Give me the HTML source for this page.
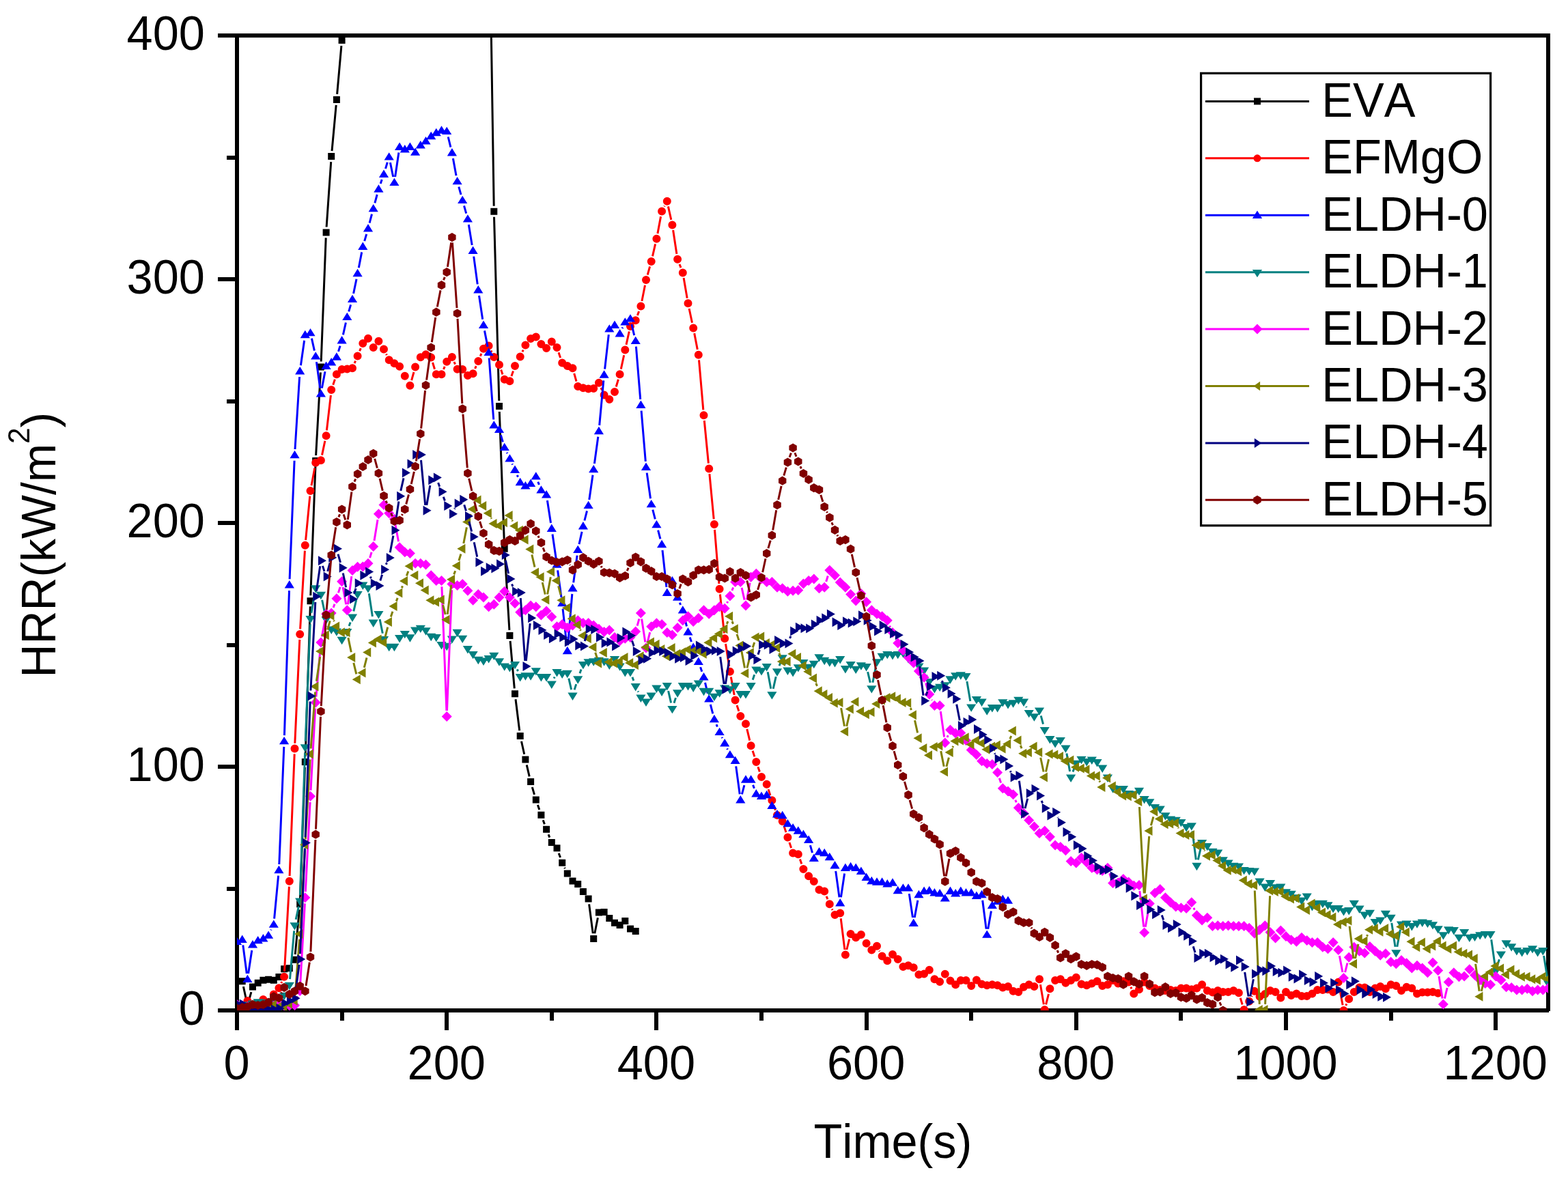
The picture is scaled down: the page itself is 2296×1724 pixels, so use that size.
<!DOCTYPE html>
<html lang="en"><head><meta charset="utf-8"><title>HRR curves</title>
<style>html,body{margin:0;padding:0;background:#fff;overflow:hidden}svg{display:block}text{font-family:"Liberation Sans","DejaVu Sans",sans-serif;fill:#000}</style></head><body>
<svg width="2296" height="1724" viewBox="0 0 2296 1724">
<rect width="2296" height="1724" fill="#fff"/>
<defs><clipPath id="plot"><rect x="347" y="52" width="1920" height="1428"/></clipPath></defs>
<g fill="#000" shape-rendering="crispEdges">
<rect x="344" y="49" width="6" height="1434"/>
<rect x="2264" y="49" width="6" height="1432"/>
<rect x="344" y="49" width="1926" height="6"/>
<rect x="344" y="1477" width="1924" height="6"/>
<rect x="319" y="1477" width="26" height="6"/>
<rect x="332" y="1298.5" width="13" height="6"/>
<rect x="319" y="1120" width="26" height="6"/>
<rect x="332" y="941.5" width="13" height="6"/>
<rect x="319" y="763" width="26" height="6"/>
<rect x="332" y="584.5" width="13" height="6"/>
<rect x="319" y="406" width="26" height="6"/>
<rect x="332" y="227.5" width="13" height="6"/>
<rect x="319" y="49" width="26" height="6"/>
<rect x="344" y="1480" width="6" height="29"/>
<rect x="498" y="1480" width="6" height="15"/>
<rect x="651" y="1480" width="6" height="29"/>
<rect x="805" y="1480" width="6" height="15"/>
<rect x="958" y="1480" width="6" height="29"/>
<rect x="1112" y="1480" width="6" height="15"/>
<rect x="1266" y="1480" width="6" height="29"/>
<rect x="1419" y="1480" width="6" height="15"/>
<rect x="1573" y="1480" width="6" height="29"/>
<rect x="1726" y="1480" width="6" height="15"/>
<rect x="1880" y="1480" width="6" height="29"/>
<rect x="2034" y="1480" width="6" height="15"/>
<rect x="2187" y="1480" width="6" height="29"/>
</g>
<g clip-path="url(#plot)">
<g fill="#000000" stroke="none">
<path fill="none" stroke="#000000" stroke-width="3" d="M356.4 1445L360.7 1465M364.5 1465.2L367.9 1453.1M432.2 1397.8L438.4 1332.3M439.5 1316.4L446.5 1123.9M447.1 1107.9L454.3 888.2M454.8 872.2L461.9 683M462.6 667L469.4 545.5M470.2 529.5L477.2 348.4M478.1 332.5L484.7 237.1M486 221.1L492.2 153.9M493.6 137.9L499.9 67.1M501.1 51.2L507.7 -47.1M715.8 -175.6L723.2 301.8M723.5 317.8L730.8 587M731.3 603L738.4 795.8M739.2 811.8L745.9 922.9M747.1 938.9L753.3 1008.3M755 1024.2L760.7 1070.1M763.5 1085.8L767.7 1104.8M771.2 1120.4L775.2 1137.3M779.3 1152.8L782.5 1163.9M787.4 1179.1L789.8 1186.1M795.2 1201.2L797.4 1207.2M803.1 1222.2L804.8 1226.6M818.2 1249.8L820.5 1256.1M826.7 1270.8L827.3 1272.2M862.6 1324.4L868.2 1367.1M870.8 1367.2L875.4 1344.3"/>
<path d="M342 1432.2h10v10h-10zM349.7 1432.2h10v10h-10zM357.4 1467.9h10v10h-10zM365 1440.4h10v10h-10zM372.7 1434.7h10v10h-10zM380.4 1430.7h10v10h-10zM388.1 1429.7h10v10h-10zM395.8 1430.7h10v10h-10zM403.4 1426.1h10v10h-10zM411.1 1414.3h10v10h-10zM418.8 1413.2h10v10h-10zM426.5 1400.7h10v10h-10zM434.2 1319.3h10v10h-10zM441.8 1110.9h10v10h-10zM449.5 875.2h10v10h-10zM457.2 670h10v10h-10zM464.9 532.5h10v10h-10zM472.6 335.5h10v10h-10zM480.2 224.1h10v10h-10zM487.9 140.9h10v10h-10zM495.6 54.1h10v10h-10zM718.3 304.8h10v10h-10zM726 590h10v10h-10zM733.7 798.8h10v10h-10zM741.4 925.9h10v10h-10zM749 1011.3h10v10h-10zM756.7 1073h10v10h-10zM764.4 1107.6h10v10h-10zM772.1 1140.1h10v10h-10zM779.8 1166.6h10v10h-10zM787.4 1188.7h10v10h-10zM795.1 1209.7h10v10h-10zM802.8 1229h10v10h-10zM810.5 1237.2h10v10h-10zM818.2 1258.7h10v10h-10zM825.8 1274.4h10v10h-10zM833.5 1285.4h10v10h-10zM841.2 1290.1h10v10h-10zM848.9 1301.1h10v10h-10zM856.6 1311.5h10v10h-10zM864.2 1370h10v10h-10zM871.9 1331.5h10v10h-10zM879.6 1331.1h10v10h-10zM887.3 1340.1h10v10h-10zM895 1346.8h10v10h-10zM902.6 1350h10v10h-10zM910.3 1344h10v10h-10zM918 1355.4h10v10h-10zM925.7 1359h10v10h-10z"/>
</g>
<g fill="#ff0000" stroke="none">
<path fill="none" stroke="#ff0000" stroke-width="3" d="M411.7 1440.1L412.8 1437.8M416.5 1422.9L423.4 1298.6M424.1 1283L431.2 1104.4M431.8 1088.8L438.8 936.9M439.6 921.4L446.4 806.6M447.6 791.1L453.8 726.6M456 711.2L460.8 685.5M471.5 666.6L475.9 645.8M478.4 630.4L484.4 578.8M487.7 563.7L490.4 555.6M519 532.1L520.6 528.6M526.6 514.2L528.3 510.1M565.5 518.5L566.3 520.2M602.6 557.1L606 545M633.5 531L636.5 540.8M649.5 541L651.2 536.9M665 530L666.5 533.6M695.6 540L697.2 536.1M703.3 521.8L704.9 517.9M718.9 513.5L720 515.8M733.6 541.6L736 548.4M748.9 550.9L751.5 543.5M764.9 515.4L766.2 512.5M818 516.3L820.6 524.1M840.7 546.8L844 558.6M880 567.9L881.5 571.4M902.2 566.5L905.4 555.7M909.3 540.6L913.7 520.2M917 504.9L921.3 485.5M933.4 462L935.6 455.9M939.9 441L944.5 417.7M948.2 402.6L951.6 390.4M955.5 375.3L959.6 357.3M962.9 342.1L967.6 317.1M972.7 302.5L973.1 301.7M978.4 302.4L982.8 321.8M985.6 337.1L990.9 372M995 387L997 392.1M1001.1 407L1006.2 436.7M1009.1 452L1013.5 472.8M1016.7 488.1L1021.3 512M1023.5 527.4L1029.8 600.4M1031.3 616L1037.4 678.6M1038.9 694.2L1045.2 760.4M1046.5 775.9L1052.9 855M1054.4 870.5L1060.4 927.5M1062.5 942.9L1067.7 976.1M1070.3 991.4L1075.2 1017.9M1079 1033L1081.9 1041.7M1093.8 1067.8L1097.8 1084.7M1102.1 1099.7L1104.9 1108.4M1109.9 1123.2L1112.4 1130.6M1125.1 1156.1L1127.9 1164.9M1133 1179.6L1135.4 1186.7M1148.1 1210.4L1151 1219.1M1155.9 1233.9L1158.6 1242M1171.4 1258.5L1173.8 1265.6M1210.1 1312.7L1211.9 1317.1M1218.3 1331.4L1219.1 1333M1231.2 1345.3L1236.9 1390.9M1239.8 1391L1243.7 1375.5M1287.6 1392.7L1288 1393.5M1523.4 1442L1528.4 1471.2M1531.6 1471.4L1535.5 1455.8M1655.8 1445.7L1657 1448.3M1816.2 1461.7L1819.2 1471.5M1832.8 1459.8L1833.4 1458.7M1961.2 1446.3L1966.1 1472.3M1970.7 1472.9L1971.9 1470.3"/>
<path d="M341 1476.4a6 6 0 1 0 12 0a6 6 0 1 0 -12 0zM348.7 1474.6a6 6 0 1 0 12 0a6 6 0 1 0 -12 0zM356.4 1466.1a6 6 0 1 0 12 0a6 6 0 1 0 -12 0zM364 1474.6a6 6 0 1 0 12 0a6 6 0 1 0 -12 0zM371.7 1472.9a6 6 0 1 0 12 0a6 6 0 1 0 -12 0zM379.4 1463.9a6 6 0 1 0 12 0a6 6 0 1 0 -12 0zM387.1 1468.2a6 6 0 1 0 12 0a6 6 0 1 0 -12 0zM394.8 1456.4a6 6 0 1 0 12 0a6 6 0 1 0 -12 0zM402.4 1447.2a6 6 0 1 0 12 0a6 6 0 1 0 -12 0zM410.1 1430.7a6 6 0 1 0 12 0a6 6 0 1 0 -12 0zM417.8 1290.8a6 6 0 1 0 12 0a6 6 0 1 0 -12 0zM425.5 1096.6a6 6 0 1 0 12 0a6 6 0 1 0 -12 0zM433.2 929.1a6 6 0 1 0 12 0a6 6 0 1 0 -12 0zM440.8 798.8a6 6 0 1 0 12 0a6 6 0 1 0 -12 0zM448.5 718.9a6 6 0 1 0 12 0a6 6 0 1 0 -12 0zM456.2 677.8a6 6 0 1 0 12 0a6 6 0 1 0 -12 0zM463.9 674.3a6 6 0 1 0 12 0a6 6 0 1 0 -12 0zM471.6 638.2a6 6 0 1 0 12 0a6 6 0 1 0 -12 0zM479.2 571.1a6 6 0 1 0 12 0a6 6 0 1 0 -12 0zM486.9 548.2a6 6 0 1 0 12 0a6 6 0 1 0 -12 0zM494.6 541.1a6 6 0 1 0 12 0a6 6 0 1 0 -12 0zM502.3 540.4a6 6 0 1 0 12 0a6 6 0 1 0 -12 0zM510 539.3a6 6 0 1 0 12 0a6 6 0 1 0 -12 0zM517.6 521.5a6 6 0 1 0 12 0a6 6 0 1 0 -12 0zM525.3 502.9a6 6 0 1 0 12 0a6 6 0 1 0 -12 0zM533 495.8a6 6 0 1 0 12 0a6 6 0 1 0 -12 0zM540.7 509a6 6 0 1 0 12 0a6 6 0 1 0 -12 0zM548.4 499.7a6 6 0 1 0 12 0a6 6 0 1 0 -12 0zM556 511.5a6 6 0 1 0 12 0a6 6 0 1 0 -12 0zM563.7 527.2a6 6 0 1 0 12 0a6 6 0 1 0 -12 0zM571.4 532.2a6 6 0 1 0 12 0a6 6 0 1 0 -12 0zM579.1 536.8a6 6 0 1 0 12 0a6 6 0 1 0 -12 0zM586.8 550.7a6 6 0 1 0 12 0a6 6 0 1 0 -12 0zM594.4 564.7a6 6 0 1 0 12 0a6 6 0 1 0 -12 0zM602.1 537.5a6 6 0 1 0 12 0a6 6 0 1 0 -12 0zM609.8 523.2a6 6 0 1 0 12 0a6 6 0 1 0 -12 0zM617.5 519.3a6 6 0 1 0 12 0a6 6 0 1 0 -12 0zM625.2 523.6a6 6 0 1 0 12 0a6 6 0 1 0 -12 0zM632.8 548.2a6 6 0 1 0 12 0a6 6 0 1 0 -12 0zM640.5 548.2a6 6 0 1 0 12 0a6 6 0 1 0 -12 0zM648.2 529.7a6 6 0 1 0 12 0a6 6 0 1 0 -12 0zM655.9 522.9a6 6 0 1 0 12 0a6 6 0 1 0 -12 0zM663.6 540.7a6 6 0 1 0 12 0a6 6 0 1 0 -12 0zM671.2 541.1a6 6 0 1 0 12 0a6 6 0 1 0 -12 0zM678.9 550a6 6 0 1 0 12 0a6 6 0 1 0 -12 0zM686.6 547.2a6 6 0 1 0 12 0a6 6 0 1 0 -12 0zM694.3 529a6 6 0 1 0 12 0a6 6 0 1 0 -12 0zM702 510.7a6 6 0 1 0 12 0a6 6 0 1 0 -12 0zM709.6 506.5a6 6 0 1 0 12 0a6 6 0 1 0 -12 0zM717.3 522.9a6 6 0 1 0 12 0a6 6 0 1 0 -12 0zM725 534.3a6 6 0 1 0 12 0a6 6 0 1 0 -12 0zM732.7 555.7a6 6 0 1 0 12 0a6 6 0 1 0 -12 0zM740.4 558.2a6 6 0 1 0 12 0a6 6 0 1 0 -12 0zM748 536.1a6 6 0 1 0 12 0a6 6 0 1 0 -12 0zM755.7 522.5a6 6 0 1 0 12 0a6 6 0 1 0 -12 0zM763.4 505.4a6 6 0 1 0 12 0a6 6 0 1 0 -12 0zM771.1 496.1a6 6 0 1 0 12 0a6 6 0 1 0 -12 0zM778.8 493.6a6 6 0 1 0 12 0a6 6 0 1 0 -12 0zM786.4 504a6 6 0 1 0 12 0a6 6 0 1 0 -12 0zM794.1 510a6 6 0 1 0 12 0a6 6 0 1 0 -12 0zM801.8 500.4a6 6 0 1 0 12 0a6 6 0 1 0 -12 0zM809.5 509a6 6 0 1 0 12 0a6 6 0 1 0 -12 0zM817.2 531.5a6 6 0 1 0 12 0a6 6 0 1 0 -12 0zM824.8 536.1a6 6 0 1 0 12 0a6 6 0 1 0 -12 0zM832.5 539.3a6 6 0 1 0 12 0a6 6 0 1 0 -12 0zM840.2 566.1a6 6 0 1 0 12 0a6 6 0 1 0 -12 0zM847.9 568.2a6 6 0 1 0 12 0a6 6 0 1 0 -12 0zM855.6 569.6a6 6 0 1 0 12 0a6 6 0 1 0 -12 0zM863.2 568.9a6 6 0 1 0 12 0a6 6 0 1 0 -12 0zM870.9 560.7a6 6 0 1 0 12 0a6 6 0 1 0 -12 0zM878.6 578.6a6 6 0 1 0 12 0a6 6 0 1 0 -12 0zM886.3 585a6 6 0 1 0 12 0a6 6 0 1 0 -12 0zM894 573.9a6 6 0 1 0 12 0a6 6 0 1 0 -12 0zM901.6 548.2a6 6 0 1 0 12 0a6 6 0 1 0 -12 0zM909.3 512.5a6 6 0 1 0 12 0a6 6 0 1 0 -12 0zM917 477.9a6 6 0 1 0 12 0a6 6 0 1 0 -12 0zM924.7 469.3a6 6 0 1 0 12 0a6 6 0 1 0 -12 0zM932.4 448.6a6 6 0 1 0 12 0a6 6 0 1 0 -12 0zM940 410.1a6 6 0 1 0 12 0a6 6 0 1 0 -12 0zM947.7 382.9a6 6 0 1 0 12 0a6 6 0 1 0 -12 0zM955.4 349.7a6 6 0 1 0 12 0a6 6 0 1 0 -12 0zM963.1 309.4a6 6 0 1 0 12 0a6 6 0 1 0 -12 0zM970.8 294.8a6 6 0 1 0 12 0a6 6 0 1 0 -12 0zM978.4 329.4a6 6 0 1 0 12 0a6 6 0 1 0 -12 0zM986.1 379.7a6 6 0 1 0 12 0a6 6 0 1 0 -12 0zM993.8 399.4a6 6 0 1 0 12 0a6 6 0 1 0 -12 0zM1001.5 444.3a6 6 0 1 0 12 0a6 6 0 1 0 -12 0zM1009.2 480.4a6 6 0 1 0 12 0a6 6 0 1 0 -12 0zM1016.8 519.7a6 6 0 1 0 12 0a6 6 0 1 0 -12 0zM1024.5 608.2a6 6 0 1 0 12 0a6 6 0 1 0 -12 0zM1032.2 686.4a6 6 0 1 0 12 0a6 6 0 1 0 -12 0zM1039.9 768.1a6 6 0 1 0 12 0a6 6 0 1 0 -12 0zM1047.6 862.7a6 6 0 1 0 12 0a6 6 0 1 0 -12 0zM1055.2 935.2a6 6 0 1 0 12 0a6 6 0 1 0 -12 0zM1062.9 983.8a6 6 0 1 0 12 0a6 6 0 1 0 -12 0zM1070.6 1025.5a6 6 0 1 0 12 0a6 6 0 1 0 -12 0zM1078.3 1049.1a6 6 0 1 0 12 0a6 6 0 1 0 -12 0zM1086 1060.2a6 6 0 1 0 12 0a6 6 0 1 0 -12 0zM1093.6 1092.3a6 6 0 1 0 12 0a6 6 0 1 0 -12 0zM1101.3 1115.9a6 6 0 1 0 12 0a6 6 0 1 0 -12 0zM1109 1138a6 6 0 1 0 12 0a6 6 0 1 0 -12 0zM1116.7 1148.7a6 6 0 1 0 12 0a6 6 0 1 0 -12 0zM1124.4 1172.3a6 6 0 1 0 12 0a6 6 0 1 0 -12 0zM1132 1194a6 6 0 1 0 12 0a6 6 0 1 0 -12 0zM1139.7 1203a6 6 0 1 0 12 0a6 6 0 1 0 -12 0zM1147.4 1226.5a6 6 0 1 0 12 0a6 6 0 1 0 -12 0zM1155.1 1249.4a6 6 0 1 0 12 0a6 6 0 1 0 -12 0zM1162.8 1251.2a6 6 0 1 0 12 0a6 6 0 1 0 -12 0zM1170.4 1272.9a6 6 0 1 0 12 0a6 6 0 1 0 -12 0zM1178.1 1283.3a6 6 0 1 0 12 0a6 6 0 1 0 -12 0zM1185.8 1291.1a6 6 0 1 0 12 0a6 6 0 1 0 -12 0zM1193.5 1303.3a6 6 0 1 0 12 0a6 6 0 1 0 -12 0zM1201.2 1305.4a6 6 0 1 0 12 0a6 6 0 1 0 -12 0zM1208.8 1324.3a6 6 0 1 0 12 0a6 6 0 1 0 -12 0zM1216.5 1340.1a6 6 0 1 0 12 0a6 6 0 1 0 -12 0zM1224.2 1337.6a6 6 0 1 0 12 0a6 6 0 1 0 -12 0zM1231.9 1398.6a6 6 0 1 0 12 0a6 6 0 1 0 -12 0zM1239.6 1367.9a6 6 0 1 0 12 0a6 6 0 1 0 -12 0zM1247.2 1373.3a6 6 0 1 0 12 0a6 6 0 1 0 -12 0zM1254.9 1369a6 6 0 1 0 12 0a6 6 0 1 0 -12 0zM1262.6 1381.8a6 6 0 1 0 12 0a6 6 0 1 0 -12 0zM1270.3 1391.5a6 6 0 1 0 12 0a6 6 0 1 0 -12 0zM1278 1385.8a6 6 0 1 0 12 0a6 6 0 1 0 -12 0zM1285.6 1400.4a6 6 0 1 0 12 0a6 6 0 1 0 -12 0zM1293.3 1407.2a6 6 0 1 0 12 0a6 6 0 1 0 -12 0zM1301 1397.9a6 6 0 1 0 12 0a6 6 0 1 0 -12 0zM1308.7 1405a6 6 0 1 0 12 0a6 6 0 1 0 -12 0zM1316.4 1416.1a6 6 0 1 0 12 0a6 6 0 1 0 -12 0zM1324 1414.3a6 6 0 1 0 12 0a6 6 0 1 0 -12 0zM1331.7 1417.2a6 6 0 1 0 12 0a6 6 0 1 0 -12 0zM1339.4 1427.5a6 6 0 1 0 12 0a6 6 0 1 0 -12 0zM1347.1 1426.5a6 6 0 1 0 12 0a6 6 0 1 0 -12 0zM1354.8 1420.7a6 6 0 1 0 12 0a6 6 0 1 0 -12 0zM1362.4 1434.3a6 6 0 1 0 12 0a6 6 0 1 0 -12 0zM1370.1 1437.9a6 6 0 1 0 12 0a6 6 0 1 0 -12 0zM1377.8 1426.8a6 6 0 1 0 12 0a6 6 0 1 0 -12 0zM1385.5 1436.4a6 6 0 1 0 12 0a6 6 0 1 0 -12 0zM1393.2 1442.2a6 6 0 1 0 12 0a6 6 0 1 0 -12 0zM1400.8 1436.1a6 6 0 1 0 12 0a6 6 0 1 0 -12 0zM1408.5 1436.1a6 6 0 1 0 12 0a6 6 0 1 0 -12 0zM1416.2 1443.9a6 6 0 1 0 12 0a6 6 0 1 0 -12 0zM1423.9 1435.4a6 6 0 1 0 12 0a6 6 0 1 0 -12 0zM1431.6 1441.4a6 6 0 1 0 12 0a6 6 0 1 0 -12 0zM1439.2 1443.2a6 6 0 1 0 12 0a6 6 0 1 0 -12 0zM1446.9 1442.2a6 6 0 1 0 12 0a6 6 0 1 0 -12 0zM1454.6 1443.2a6 6 0 1 0 12 0a6 6 0 1 0 -12 0zM1462.3 1446.4a6 6 0 1 0 12 0a6 6 0 1 0 -12 0zM1470 1445a6 6 0 1 0 12 0a6 6 0 1 0 -12 0zM1477.6 1451.8a6 6 0 1 0 12 0a6 6 0 1 0 -12 0zM1485.3 1452.9a6 6 0 1 0 12 0a6 6 0 1 0 -12 0zM1493 1445.7a6 6 0 1 0 12 0a6 6 0 1 0 -12 0zM1500.7 1442.2a6 6 0 1 0 12 0a6 6 0 1 0 -12 0zM1508.4 1445a6 6 0 1 0 12 0a6 6 0 1 0 -12 0zM1516 1434.3a6 6 0 1 0 12 0a6 6 0 1 0 -12 0zM1523.7 1478.9a6 6 0 1 0 12 0a6 6 0 1 0 -12 0zM1531.4 1448.2a6 6 0 1 0 12 0a6 6 0 1 0 -12 0zM1539.1 1436.1a6 6 0 1 0 12 0a6 6 0 1 0 -12 0zM1546.8 1434.3a6 6 0 1 0 12 0a6 6 0 1 0 -12 0zM1554.4 1439.7a6 6 0 1 0 12 0a6 6 0 1 0 -12 0zM1562.1 1436.1a6 6 0 1 0 12 0a6 6 0 1 0 -12 0zM1569.8 1431.8a6 6 0 1 0 12 0a6 6 0 1 0 -12 0zM1577.5 1441.4a6 6 0 1 0 12 0a6 6 0 1 0 -12 0zM1585.2 1443.2a6 6 0 1 0 12 0a6 6 0 1 0 -12 0zM1592.8 1440.4a6 6 0 1 0 12 0a6 6 0 1 0 -12 0zM1600.5 1437.2a6 6 0 1 0 12 0a6 6 0 1 0 -12 0zM1608.2 1443.9a6 6 0 1 0 12 0a6 6 0 1 0 -12 0zM1615.9 1442.2a6 6 0 1 0 12 0a6 6 0 1 0 -12 0zM1623.6 1436.1a6 6 0 1 0 12 0a6 6 0 1 0 -12 0zM1631.2 1440.4a6 6 0 1 0 12 0a6 6 0 1 0 -12 0zM1638.9 1437.2a6 6 0 1 0 12 0a6 6 0 1 0 -12 0zM1646.6 1438.6a6 6 0 1 0 12 0a6 6 0 1 0 -12 0zM1654.3 1455.4a6 6 0 1 0 12 0a6 6 0 1 0 -12 0zM1662 1449.3a6 6 0 1 0 12 0a6 6 0 1 0 -12 0zM1669.6 1438.6a6 6 0 1 0 12 0a6 6 0 1 0 -12 0zM1677.3 1443.9a6 6 0 1 0 12 0a6 6 0 1 0 -12 0zM1685 1447.5a6 6 0 1 0 12 0a6 6 0 1 0 -12 0zM1692.7 1450a6 6 0 1 0 12 0a6 6 0 1 0 -12 0zM1700.4 1451.1a6 6 0 1 0 12 0a6 6 0 1 0 -12 0zM1708 1450a6 6 0 1 0 12 0a6 6 0 1 0 -12 0zM1715.7 1451.1a6 6 0 1 0 12 0a6 6 0 1 0 -12 0zM1723.4 1447.5a6 6 0 1 0 12 0a6 6 0 1 0 -12 0zM1731.1 1447.5a6 6 0 1 0 12 0a6 6 0 1 0 -12 0zM1738.8 1449.3a6 6 0 1 0 12 0a6 6 0 1 0 -12 0zM1746.4 1447.5a6 6 0 1 0 12 0a6 6 0 1 0 -12 0zM1754.1 1442.2a6 6 0 1 0 12 0a6 6 0 1 0 -12 0zM1761.8 1451.1a6 6 0 1 0 12 0a6 6 0 1 0 -12 0zM1769.5 1453.6a6 6 0 1 0 12 0a6 6 0 1 0 -12 0zM1777.2 1451.1a6 6 0 1 0 12 0a6 6 0 1 0 -12 0zM1784.8 1452.9a6 6 0 1 0 12 0a6 6 0 1 0 -12 0zM1792.5 1452.9a6 6 0 1 0 12 0a6 6 0 1 0 -12 0zM1800.2 1451.1a6 6 0 1 0 12 0a6 6 0 1 0 -12 0zM1807.9 1454.3a6 6 0 1 0 12 0a6 6 0 1 0 -12 0zM1815.6 1478.9a6 6 0 1 0 12 0a6 6 0 1 0 -12 0zM1823.2 1466.8a6 6 0 1 0 12 0a6 6 0 1 0 -12 0zM1830.9 1451.8a6 6 0 1 0 12 0a6 6 0 1 0 -12 0zM1838.6 1459.7a6 6 0 1 0 12 0a6 6 0 1 0 -12 0zM1846.3 1456.1a6 6 0 1 0 12 0a6 6 0 1 0 -12 0zM1854 1451.1a6 6 0 1 0 12 0a6 6 0 1 0 -12 0zM1861.6 1452.9a6 6 0 1 0 12 0a6 6 0 1 0 -12 0zM1869.3 1461.4a6 6 0 1 0 12 0a6 6 0 1 0 -12 0zM1877 1452.9a6 6 0 1 0 12 0a6 6 0 1 0 -12 0zM1884.7 1457.9a6 6 0 1 0 12 0a6 6 0 1 0 -12 0zM1892.4 1455.4a6 6 0 1 0 12 0a6 6 0 1 0 -12 0zM1900 1458.9a6 6 0 1 0 12 0a6 6 0 1 0 -12 0zM1907.7 1458.9a6 6 0 1 0 12 0a6 6 0 1 0 -12 0zM1915.4 1455.4a6 6 0 1 0 12 0a6 6 0 1 0 -12 0zM1923.1 1450a6 6 0 1 0 12 0a6 6 0 1 0 -12 0zM1930.8 1450a6 6 0 1 0 12 0a6 6 0 1 0 -12 0zM1938.4 1449.3a6 6 0 1 0 12 0a6 6 0 1 0 -12 0zM1946.1 1452.9a6 6 0 1 0 12 0a6 6 0 1 0 -12 0zM1953.8 1438.6a6 6 0 1 0 12 0a6 6 0 1 0 -12 0zM1961.5 1480a6 6 0 1 0 12 0a6 6 0 1 0 -12 0zM1969.2 1463.2a6 6 0 1 0 12 0a6 6 0 1 0 -12 0zM1976.8 1452.9a6 6 0 1 0 12 0a6 6 0 1 0 -12 0zM1984.5 1446.4a6 6 0 1 0 12 0a6 6 0 1 0 -12 0zM1992.2 1446.4a6 6 0 1 0 12 0a6 6 0 1 0 -12 0zM1999.9 1452.9a6 6 0 1 0 12 0a6 6 0 1 0 -12 0zM2007.6 1447.5a6 6 0 1 0 12 0a6 6 0 1 0 -12 0zM2015.2 1445a6 6 0 1 0 12 0a6 6 0 1 0 -12 0zM2022.9 1448.2a6 6 0 1 0 12 0a6 6 0 1 0 -12 0zM2030.6 1442.2a6 6 0 1 0 12 0a6 6 0 1 0 -12 0zM2038.3 1443.9a6 6 0 1 0 12 0a6 6 0 1 0 -12 0zM2046 1451.1a6 6 0 1 0 12 0a6 6 0 1 0 -12 0zM2053.6 1445.7a6 6 0 1 0 12 0a6 6 0 1 0 -12 0zM2061.3 1447.5a6 6 0 1 0 12 0a6 6 0 1 0 -12 0zM2069 1455.4a6 6 0 1 0 12 0a6 6 0 1 0 -12 0zM2076.7 1453.6a6 6 0 1 0 12 0a6 6 0 1 0 -12 0zM2084.4 1453.6a6 6 0 1 0 12 0a6 6 0 1 0 -12 0zM2092 1452.9a6 6 0 1 0 12 0a6 6 0 1 0 -12 0zM2099.7 1454.7a6 6 0 1 0 12 0a6 6 0 1 0 -12 0z"/>
</g>
<g fill="#0000ff" stroke="none">
<path fill="none" stroke="#0000ff" stroke-width="3" d="M355.8 1384.4L361.3 1426M363.6 1426L368.8 1391.9M396.7 1362.5L397.1 1361.6M401.6 1345.6L407.6 1282.7M408.8 1266L415.8 1093.9M416.4 1077.1L423.5 865.1M424.1 848.3L431.1 674.8M432 658L438.6 552M440.4 535.3L445.6 498.7M456.4 495.7L460.4 513.6M463.4 530.1L468.7 568.5M471.4 568.5L476 544.3M495.5 514.9L498.1 506.6M502.4 490.4L506.4 472.5M510.7 456.3L513.6 446.3M517.6 430L522 408.7M525.3 392.2L529.7 369.4M533.7 353.1L536.7 342.8M541.1 326.6L544.5 313.6M548.9 297.4L552.2 285M557.2 269L559.2 263.1M564.5 247.1L567.3 237.8M571.4 238L575.7 259M578.6 259L583.9 223.5M656.2 200.5L659.9 215.6M663.4 232L668 257.2M671.8 273.6L675 285.2M679.5 301.4L682.7 312.7M686.3 329.1L691.2 358.9M693.7 375.6L699.2 416.4M701.5 433L706.7 467.8M709.5 484.4L714.1 507.9M716.2 524.5L722.7 614.5M733.4 637.3L736.3 647.3M742.2 662.9L742.8 664.1M749.9 679.4L750.5 680.6M757.3 695.9L758.5 698.6M787.8 705.7L789.4 710M801.4 732.9L806.5 765.9M809 782.5L814.3 818.7M816.6 835.4L822 875.1M824.1 891.8L829.9 945.1M831.5 945.1L837.8 870M839.7 853.4L845.1 813.6M848 797.1L852.1 778.8M855.9 762.5L859.5 748.4M862.8 732L868 695.8M870.4 679.1L875.8 639.7M877.7 623L883.8 557.3M885.6 540.6L891.3 490.2M911.1 481L911.8 479.5M924.9 475L928.7 491.1M931.4 507.7L937.7 584.8M939.1 601.6L945.3 675.9M947.2 692.6L952.5 730.2M955.8 746.6L959.3 760.4M963.6 776.6L966.9 789.3M970 805.8L975.9 859.8M980.1 860.4L981.1 858.3M987 858.6L989.6 866.9M995.3 882.7L996.6 886M1001.8 902L1005.5 917.4M1010.2 933.5L1012.4 940.1M1018 956L1020 961.2M1025.6 977.1L1027.8 983.7M1032.5 999.8L1036.2 1015.6M1040.3 1031.9L1043.8 1045.3M1049 1061.2L1050.4 1064.5M1057.1 1079.9L1057.7 1081.1M1064.7 1096.4L1065.4 1097.9M1077.7 1122.4L1083.2 1163.2M1086.4 1163.4L1089.9 1150.1M1102.6 1149.8L1104.4 1154.8M1186.4 1238.2L1189.5 1249.1M1223.7 1275.9L1229 1314.2M1231.4 1314.3L1236.6 1279.5M1331.3 1309.1L1336.5 1343.9M1339.2 1343.9L1343.9 1318.7M1438.7 1318.8L1444.1 1360.6M1446.7 1360.7L1451.4 1334.4"/>
<path d="M347 1372.7L354.1 1384.1L339.9 1384.1zM354.7 1369.5L361.8 1380.9L347.6 1380.9zM362.4 1427.7L369.5 1439.1L355.3 1439.1zM370 1377L377.1 1388.4L362.9 1388.4zM377.7 1370.9L384.8 1382.3L370.6 1382.3zM385.4 1368.1L392.5 1379.5L378.3 1379.5zM393.1 1363.4L400.2 1374.8L386 1374.8zM400.8 1347.4L407.9 1358.8L393.7 1358.8zM408.4 1267.8L415.5 1279.2L401.3 1279.2zM416.1 1078.9L423.2 1090.3L409 1090.3zM423.8 850.1L430.9 861.5L416.7 861.5zM431.5 659.8L438.6 671.2L424.4 671.2zM439.2 537L446.3 548.4L432.1 548.4zM446.8 483.8L453.9 495.2L439.7 495.2zM454.5 480.9L461.6 492.3L447.4 492.3zM462.2 515.2L469.3 526.6L455.1 526.6zM469.9 570.2L477 581.6L462.8 581.6zM477.6 529.5L484.7 540.9L470.5 540.9zM485.2 524.1L492.3 535.5L478.1 535.5zM492.9 516.3L500 527.7L485.8 527.7zM500.6 492L507.7 503.4L493.5 503.4zM508.3 457.7L515.4 469.1L501.2 469.1zM516 431.7L523.1 443.1L508.9 443.1zM523.6 393.8L530.7 405.2L516.5 405.2zM531.3 354.6L538.4 366L524.2 366zM539 328.1L546.1 339.5L531.9 339.5zM546.7 298.9L553.8 310.3L539.6 310.3zM554.4 270.3L561.5 281.7L547.3 281.7zM562 248.5L569.1 259.9L554.9 259.9zM569.7 223.2L576.8 234.6L562.6 234.6zM577.4 260.7L584.5 272.1L570.3 272.1zM585.1 208.5L592.2 219.9L578 219.9zM592.8 212.1L599.9 223.5L585.7 223.5zM600.4 208.5L607.5 219.9L593.3 219.9zM608.1 216.4L615.2 227.8L601 227.8zM615.8 206.1L622.9 217.5L608.7 217.5zM623.5 200L630.6 211.4L616.4 211.4zM631.2 192.8L638.3 204.2L624.1 204.2zM638.8 187.8L645.9 199.2L631.7 199.2zM646.5 184.3L653.6 195.7L639.4 195.7zM654.2 185.7L661.3 197.1L647.1 197.1zM661.9 217.1L669 228.5L654.8 228.5zM669.6 258.9L676.7 270.3L662.5 270.3zM677.2 286.7L684.3 298.1L670.1 298.1zM684.9 314.2L692 325.6L677.8 325.6zM692.6 360.6L699.7 372L685.5 372zM700.3 418.1L707.4 429.5L693.2 429.5zM708 469.5L715.1 480.9L700.9 480.9zM715.6 509.5L722.7 520.9L708.5 520.9zM723.3 616.2L730.4 627.6L716.2 627.6zM731 622.7L738.1 634.1L723.9 634.1zM738.7 648.7L745.8 660.1L731.6 660.1zM746.4 665.2L753.5 676.6L739.3 676.6zM754 681.6L761.1 693L746.9 693zM761.7 699.8L768.8 711.2L754.6 711.2zM769.4 705.1L776.5 716.5L762.3 716.5zM777.1 701.6L784.2 713L770 713zM784.8 691.2L791.9 702.6L777.7 702.6zM792.4 711.2L799.5 722.6L785.3 722.6zM800.1 718L807.2 729.4L793 729.4zM807.8 767.6L814.9 779L800.7 779zM815.5 820.4L822.6 831.8L808.4 831.8zM823.2 876.9L830.3 888.3L816.1 888.3zM830.8 946.8L837.9 958.2L823.7 958.2zM838.5 855.1L845.6 866.5L831.4 866.5zM846.2 798.7L853.3 810.1L839.1 810.1zM853.9 764L861 775.4L846.8 775.4zM861.6 733.7L868.7 745.1L854.5 745.1zM869.2 680.9L876.3 692.3L862.1 692.3zM876.9 624.8L884 636.2L869.8 636.2zM884.6 542.3L891.7 553.7L877.5 553.7zM892.3 475.2L899.4 486.6L885.2 486.6zM900 469.5L907.1 480.9L892.9 480.9zM907.6 482L914.7 493.4L900.5 493.4zM915.3 465.2L922.4 476.6L908.2 476.6zM923 460.2L930.1 471.6L915.9 471.6zM930.7 492.7L937.8 504.1L923.6 504.1zM938.4 586.6L945.5 598L931.3 598zM946 677.6L953.1 689L938.9 689zM953.7 731.9L960.8 743.3L946.6 743.3zM961.4 761.9L968.5 773.3L954.3 773.3zM969.1 790.8L976.2 802.2L962 802.2zM976.8 861.5L983.9 872.9L969.7 872.9zM984.4 844L991.5 855.4L977.3 855.4zM992.1 868.3L999.2 879.7L985 879.7zM999.8 887.2L1006.9 898.6L992.7 898.6zM1007.5 919L1014.6 930.4L1000.4 930.4zM1015.2 941.5L1022.3 952.9L1008.1 952.9zM1022.8 962.5L1029.9 973.9L1015.7 973.9zM1030.5 985L1037.6 996.4L1023.4 996.4zM1038.2 1017.2L1045.3 1028.6L1031.1 1028.6zM1045.9 1046.8L1053 1058.2L1038.8 1058.2zM1053.6 1065.7L1060.7 1077.1L1046.5 1077.1zM1061.2 1082.1L1068.3 1093.5L1054.1 1093.5zM1068.9 1098.9L1076 1110.3L1061.8 1110.3zM1076.6 1107.5L1083.7 1118.9L1069.5 1118.9zM1084.3 1165L1091.4 1176.4L1077.2 1176.4zM1092 1135.3L1099.1 1146.7L1084.9 1146.7zM1099.6 1135.3L1106.7 1146.7L1092.5 1146.7zM1107.3 1156L1114.4 1167.4L1100.2 1167.4zM1115 1159.6L1122.1 1171L1107.9 1171zM1122.7 1157.8L1129.8 1169.2L1115.6 1169.2zM1130.4 1173.5L1137.5 1184.9L1123.3 1184.9zM1138 1186L1145.1 1197.4L1130.9 1197.4zM1145.7 1187.8L1152.8 1199.2L1138.6 1199.2zM1153.4 1199.9L1160.5 1211.3L1146.3 1211.3zM1161.1 1206L1168.2 1217.4L1154 1217.4zM1168.8 1210.3L1175.9 1221.7L1161.7 1221.7zM1176.4 1215.6L1183.5 1227L1169.3 1227zM1184.1 1223.5L1191.2 1234.9L1177 1234.9zM1191.8 1250.6L1198.9 1262L1184.7 1262zM1199.5 1241L1206.6 1252.4L1192.4 1252.4zM1207.2 1242.8L1214.3 1254.2L1200.1 1254.2zM1214.8 1248.8L1221.9 1260.2L1207.7 1260.2zM1222.5 1261L1229.6 1272.4L1215.4 1272.4zM1230.2 1316L1237.3 1327.4L1223.1 1327.4zM1237.9 1264.6L1245 1276L1230.8 1276zM1245.6 1262.8L1252.7 1274.2L1238.5 1274.2zM1253.2 1264.6L1260.3 1276L1246.1 1276zM1260.9 1269.6L1268 1281L1253.8 1281zM1268.6 1278.5L1275.7 1289.9L1261.5 1289.9zM1276.3 1283.8L1283.4 1295.2L1269.2 1295.2zM1284 1285.3L1291.1 1296.7L1276.9 1296.7zM1291.6 1285.3L1298.7 1296.7L1284.5 1296.7zM1299.3 1288.1L1306.4 1299.5L1292.2 1299.5zM1307 1286.3L1314.1 1297.7L1299.9 1297.7zM1314.7 1297.8L1321.8 1309.2L1307.6 1309.2zM1322.4 1294.2L1329.5 1305.6L1315.3 1305.6zM1330 1294.2L1337.1 1305.6L1322.9 1305.6zM1337.7 1345.6L1344.8 1357L1330.6 1357zM1345.4 1303.8L1352.5 1315.2L1338.3 1315.2zM1353.1 1298.5L1360.2 1309.9L1346 1309.9zM1360.8 1297.8L1367.9 1309.2L1353.7 1309.2zM1368.4 1301L1375.5 1312.4L1361.3 1312.4zM1376.1 1302L1383.2 1313.4L1369 1313.4zM1383.8 1309.2L1390.9 1320.6L1376.7 1320.6zM1391.5 1298.5L1398.6 1309.9L1384.4 1309.9zM1399.2 1302L1406.3 1313.4L1392.1 1313.4zM1406.8 1298.5L1413.9 1309.9L1399.7 1309.9zM1414.5 1301L1421.6 1312.4L1407.4 1312.4zM1422.2 1301L1429.3 1312.4L1415.1 1312.4zM1429.9 1305.6L1437 1317L1422.8 1317zM1437.6 1303.8L1444.7 1315.2L1430.5 1315.2zM1445.2 1362.4L1452.3 1373.8L1438.1 1373.8zM1452.9 1319.5L1460 1330.9L1445.8 1330.9zM1460.6 1313.5L1467.7 1324.9L1453.5 1324.9zM1468.3 1310.6L1475.4 1322L1461.2 1322zM1476 1312.4L1483.1 1323.8L1468.9 1323.8z"/>
</g>
<g fill="#008080" stroke="none">
<path fill="none" stroke="#008080" stroke-width="3" d="M424.5 1434.1L430.7 1363.4M433.2 1346.8L437.4 1327.6M439.4 1311L446.6 1102.5M447.2 1085.7L454.2 914.3M455.9 897.7L460.8 869.2M471.6 878.8L475.8 898.8M511.1 917L513.1 911.4M517.8 895.3L521.8 878.1M540.3 869.3L545.4 903M556.1 907L560.3 927.7M757.3 980.4L758.5 983.2M811.2 993.6L812.1 991.5M832.8 993.7L836.6 1010.2M841.1 1010.4L843.7 1002.1M849 986.2L851 980.6M925.9 991.7L927.8 996.9M934.2 1012.4L934.8 1013.6M978.6 1012L982.6 1029.5M987 1029.7L989.5 1022.1M1102.2 995.8L1104.7 988.2M1124.2 984.2L1128.8 1008.7M1132.2 1008.8L1136.2 991.2M1141.1 975.2L1142.7 970.9M1149 970.8L1150.1 973.5M1270.6 984.1L1274.3 999.9M1277.9 999.8L1282.3 977.4M1356.6 988.9L1357.2 990.1M1415.9 998.1L1420.8 1026.9M1502.6 1034.9L1503.1 1036.1M1524.2 1048.3L1527.5 1060.6M1561.9 1103.4L1566.6 1130.1M1571 1130.5L1572.9 1125.5M1745.9 1217.4L1751.3 1259.3M1754.3 1259.4L1758.3 1241.9M2037.8 1351.9L2043 1386.7M2045.8 1386.8L2050.4 1361.5M2183.7 1376.2L2189 1413.5M2192.7 1413.8L2195.4 1405.2M2201.5 1389.6L2201.9 1388.7M2260.6 1400.1L2265.7 1431.7"/>
<path d="M347 1480.5L354.1 1469.1L339.9 1469.1zM354.7 1480.5L361.8 1469.1L347.6 1469.1zM362.4 1478.7L369.5 1467.3L355.3 1467.3zM370 1476.9L377.1 1465.5L362.9 1465.5zM377.7 1474.7L384.8 1463.3L370.6 1463.3zM385.4 1475.1L392.5 1463.7L378.3 1463.7zM393.1 1475.1L400.2 1463.7L386 1463.7zM400.8 1473.3L407.9 1461.9L393.7 1461.9zM408.4 1469.8L415.5 1458.4L401.3 1458.4zM416.1 1465.1L423.2 1453.7L409 1453.7zM423.8 1450.1L430.9 1438.7L416.7 1438.7zM431.5 1362.6L438.6 1351.2L424.4 1351.2zM439.2 1326.9L446.3 1315.5L432.1 1315.5zM446.8 1101.7L453.9 1090.3L439.7 1090.3zM454.5 913.5L461.6 902.1L447.4 902.1zM462.2 868.6L469.3 857.2L455.1 857.2zM469.9 878.2L477 866.8L462.8 866.8zM477.6 914.6L484.7 903.2L470.5 903.2zM485.2 928.9L492.3 917.5L478.1 917.5zM492.9 931.8L500 920.4L485.8 920.4zM500.6 944.2L507.7 932.8L493.5 932.8zM508.3 932.5L515.4 921.1L501.2 921.1zM516 911L523.1 899.6L508.9 899.6zM523.6 877.5L530.7 866.1L516.5 866.1zM531.3 863.9L538.4 852.5L524.2 852.5zM539 868.6L546.1 857.2L531.9 857.2zM546.7 918.9L553.8 907.5L539.6 907.5zM554.4 906.4L561.5 895L547.3 895zM562 943.5L569.1 932.1L554.9 932.1zM569.7 954.2L576.8 942.8L562.6 942.8zM577.4 954.2L584.5 942.8L570.3 942.8zM585.1 941.4L592.2 930L578 930zM592.8 935.3L599.9 923.9L585.7 923.9zM600.4 940.7L607.5 929.3L593.3 929.3zM608.1 930L615.2 918.6L601 918.6zM615.8 927.1L622.9 915.7L608.7 915.7zM623.5 930.7L630.6 919.3L616.4 919.3zM631.2 939.2L638.3 927.8L624.1 927.8zM638.8 940.3L645.9 928.9L631.7 928.9zM646.5 951.4L653.6 940L639.4 940zM654.2 953.2L661.3 941.8L647.1 941.8zM661.9 942.8L669 931.4L654.8 931.4zM669.6 933.2L676.7 921.8L662.5 921.8zM677.2 942.1L684.3 930.7L670.1 930.7zM684.9 957.5L692 946.1L677.8 946.1zM692.6 965.3L699.7 953.9L685.5 953.9zM700.3 973.2L707.4 961.8L693.2 961.8zM708 974.9L715.1 963.5L700.9 963.5zM715.6 971.4L722.7 960L708.5 960zM723.3 967.1L730.4 955.7L716.2 955.7zM731 975.7L738.1 964.3L723.9 964.3zM738.7 982.8L745.8 971.4L731.6 971.4zM746.4 984.6L753.5 973.2L739.3 973.2zM754 980.3L761.1 968.9L746.9 968.9zM761.7 998.5L768.8 987.1L754.6 987.1zM769.4 996.7L776.5 985.3L762.3 985.3zM777.1 996.7L784.2 985.3L770 985.3zM784.8 989.6L791.9 978.2L777.7 978.2zM792.4 998.5L799.5 987.1L785.3 987.1zM800.1 998.5L807.2 987.1L793 987.1zM807.8 1008.9L814.9 997.5L800.7 997.5zM815.5 991.4L822.6 980L808.4 980zM823.2 993.9L830.3 982.5L816.1 982.5zM830.8 993.2L837.9 981.8L823.7 981.8zM838.5 1026L845.6 1014.6L831.4 1014.6zM846.2 1001.7L853.3 990.3L839.1 990.3zM853.9 980.3L861 968.9L846.8 968.9zM861.6 976.7L868.7 965.3L854.5 965.3zM869.2 975.7L876.3 964.3L862.1 964.3zM876.9 974.2L884 962.8L869.8 962.8zM884.6 975.7L891.7 964.3L877.5 964.3zM892.3 981L899.4 969.6L885.2 969.6zM900 972.4L907.1 961L892.9 961zM907.6 982.8L914.7 971.4L900.5 971.4zM915.3 991.4L922.4 980L908.2 980zM923 991.4L930.1 980L915.9 980zM930.7 1012.4L937.8 1001L923.6 1001zM938.4 1028.9L945.5 1017.5L931.3 1017.5zM946 1034.9L953.1 1023.5L938.9 1023.5zM953.7 1026L960.8 1014.6L946.6 1014.6zM961.4 1014.9L968.5 1003.5L954.3 1003.5zM969.1 1019.9L976.2 1008.5L962 1008.5zM976.8 1011.4L983.9 1000L969.7 1000zM984.4 1045.3L991.5 1033.9L977.3 1033.9zM992.1 1021.7L999.2 1010.3L985 1010.3zM999.8 1011.4L1006.9 1000L992.7 1000zM1007.5 1011.4L1014.6 1000L1000.4 1000zM1015.2 1013.9L1022.3 1002.5L1008.1 1002.5zM1022.8 1007.8L1029.9 996.4L1015.7 996.4zM1030.5 1019.2L1037.6 1007.8L1023.4 1007.8zM1038.2 1019.2L1045.3 1007.8L1031.1 1007.8zM1045.9 1027.1L1053 1015.7L1038.8 1015.7zM1053.6 1021.7L1060.7 1010.3L1046.5 1010.3zM1061.2 1014.9L1068.3 1003.5L1054.1 1003.5zM1068.9 1016.7L1076 1005.3L1061.8 1005.3zM1076.6 1011.4L1083.7 1000L1069.5 1000zM1084.3 1023.5L1091.4 1012.1L1077.2 1012.1zM1092 1023.5L1099.1 1012.1L1084.9 1012.1zM1099.6 1011.4L1106.7 1000L1092.5 1000zM1107.3 987.8L1114.4 976.4L1100.2 976.4zM1115 989.6L1122.1 978.2L1107.9 978.2zM1122.7 983.5L1129.8 972.1L1115.6 972.1zM1130.4 1024.6L1137.5 1013.2L1123.3 1013.2zM1138 990.7L1145.1 979.3L1130.9 979.3zM1145.7 970.7L1152.8 959.3L1138.6 959.3zM1153.4 988.9L1160.5 977.5L1146.3 977.5zM1161.1 991.4L1168.2 980L1154 980zM1168.8 984.6L1175.9 973.2L1161.7 973.2zM1176.4 977.4L1183.5 966L1169.3 966zM1184.1 984.2L1191.2 972.8L1177 972.8zM1191.8 979.2L1198.9 967.8L1184.7 967.8zM1199.5 969.6L1206.6 958.2L1192.4 958.2zM1207.2 974.2L1214.3 962.8L1200.1 962.8zM1214.8 976.7L1221.9 965.3L1207.7 965.3zM1222.5 977.4L1229.6 966L1215.4 966zM1230.2 972.4L1237.3 961L1223.1 961zM1237.9 986.4L1245 975L1230.8 975zM1245.6 980.3L1252.7 968.9L1238.5 968.9zM1253.2 987.1L1260.3 975.7L1246.1 975.7zM1260.9 981.7L1268 970.3L1253.8 970.3zM1268.6 983.5L1275.7 972.1L1261.5 972.1zM1276.3 1015.6L1283.4 1004.2L1269.2 1004.2zM1284 976.7L1291.1 965.3L1276.9 965.3zM1291.6 968.2L1298.7 956.8L1284.5 956.8zM1299.3 965.3L1306.4 953.9L1292.2 953.9zM1307 966.4L1314.1 955L1299.9 955zM1314.7 965.3L1321.8 953.9L1307.6 953.9zM1322.4 963.5L1329.5 952.1L1315.3 952.1zM1330 971.4L1337.1 960L1322.9 960zM1337.7 977.4L1344.8 966L1330.6 966zM1345.4 982.8L1352.5 971.4L1338.3 971.4zM1353.1 988.9L1360.2 977.5L1346 977.5zM1360.8 1005.3L1367.9 993.9L1353.7 993.9zM1368.4 1015.6L1375.5 1004.2L1361.3 1004.2zM1376.1 1013.1L1383.2 1001.7L1369 1001.7zM1383.8 1010.6L1390.9 999.2L1376.7 999.2zM1391.5 1001.7L1398.6 990.3L1384.4 990.3zM1399.2 996.7L1406.3 985.3L1392.1 985.3zM1406.8 995.7L1413.9 984.3L1399.7 984.3zM1414.5 997.4L1421.6 986L1407.4 986zM1422.2 1042.8L1429.3 1031.4L1415.1 1031.4zM1429.9 1031.4L1437 1020L1422.8 1020zM1437.6 1034.9L1444.7 1023.5L1430.5 1023.5zM1445.2 1047.8L1452.3 1036.4L1438.1 1036.4zM1452.9 1043.5L1460 1032.1L1445.8 1032.1zM1460.6 1043.5L1467.7 1032.1L1453.5 1032.1zM1468.3 1035.6L1475.4 1024.2L1461.2 1024.2zM1476 1038.5L1483.1 1027.1L1468.9 1027.1zM1483.6 1036.7L1490.7 1025.3L1476.5 1025.3zM1491.3 1032.1L1498.4 1020.7L1484.2 1020.7zM1499 1034.9L1506.1 1023.5L1491.9 1023.5zM1506.7 1051.3L1513.8 1039.9L1499.6 1039.9zM1514.4 1056.7L1521.5 1045.3L1507.3 1045.3zM1522 1047.8L1529.1 1036.4L1514.9 1036.4zM1529.7 1076.3L1536.8 1064.9L1522.6 1064.9zM1537.4 1089.5L1544.5 1078.1L1530.3 1078.1zM1545.1 1095.6L1552.2 1084.2L1538 1084.2zM1552.8 1091.3L1559.9 1079.9L1545.7 1079.9zM1560.4 1102.8L1567.5 1091.4L1553.3 1091.4zM1568.1 1146L1575.2 1134.6L1561 1134.6zM1575.8 1125.2L1582.9 1113.8L1568.7 1113.8zM1583.5 1119.2L1590.6 1107.8L1576.4 1107.8zM1591.2 1122.4L1598.3 1111L1584.1 1111zM1598.8 1119.9L1605.9 1108.5L1591.7 1108.5zM1606.5 1123.5L1613.6 1112.1L1599.4 1112.1zM1614.2 1132L1621.3 1120.6L1607.1 1120.6zM1621.9 1146L1629 1134.6L1614.8 1134.6zM1629.6 1161.7L1636.7 1150.3L1622.5 1150.3zM1637.2 1162.4L1644.3 1151L1630.1 1151zM1644.9 1162.4L1652 1151L1637.8 1151zM1652.6 1169.5L1659.7 1158.1L1645.5 1158.1zM1660.3 1170.2L1667.4 1158.8L1653.2 1158.8zM1668 1165.2L1675.1 1153.8L1660.9 1153.8zM1675.6 1177.4L1682.7 1166L1668.5 1166zM1683.3 1181.7L1690.4 1170.3L1676.2 1170.3zM1691 1189.5L1698.1 1178.1L1683.9 1178.1zM1698.7 1192L1705.8 1180.6L1691.6 1180.6zM1706.4 1201.6L1713.5 1190.2L1699.3 1190.2zM1714 1207L1721.1 1195.6L1706.9 1195.6zM1721.7 1208.1L1728.8 1196.7L1714.6 1196.7zM1729.4 1211.3L1736.5 1199.9L1722.3 1199.9zM1737.1 1218.4L1744.2 1207L1730 1207zM1744.8 1216.6L1751.9 1205.2L1737.7 1205.2zM1752.4 1275.2L1759.5 1263.8L1745.3 1263.8zM1760.1 1241.3L1767.2 1229.9L1753 1229.9zM1767.8 1246.3L1774.9 1234.9L1760.7 1234.9zM1775.5 1254.1L1782.6 1242.7L1768.4 1242.7zM1783.2 1255.9L1790.3 1244.5L1776.1 1244.5zM1790.8 1266.6L1797.9 1255.2L1783.7 1255.2zM1798.5 1270.9L1805.6 1259.5L1791.4 1259.5zM1806.2 1275.2L1813.3 1263.8L1799.1 1263.8zM1813.9 1275.9L1821 1264.5L1806.8 1264.5zM1821.6 1281.3L1828.7 1269.9L1814.5 1269.9zM1829.2 1282.3L1836.3 1270.9L1822.1 1270.9zM1836.9 1283L1844 1271.6L1829.8 1271.6zM1844.6 1298L1851.7 1286.6L1837.5 1286.6zM1852.3 1305.9L1859.4 1294.5L1845.2 1294.5zM1860 1300.5L1867.1 1289.1L1852.9 1289.1zM1867.6 1306.6L1874.7 1295.2L1860.5 1295.2zM1875.3 1305.9L1882.4 1294.5L1868.2 1294.5zM1883 1313.7L1890.1 1302.3L1875.9 1302.3zM1890.7 1316.2L1897.8 1304.8L1883.6 1304.8zM1898.4 1321.6L1905.5 1310.2L1891.3 1310.2zM1906 1325.9L1913.1 1314.5L1898.9 1314.5zM1913.7 1319.8L1920.8 1308.4L1906.6 1308.4zM1921.4 1334.4L1928.5 1323L1914.3 1323zM1929.1 1330.2L1936.2 1318.8L1922 1318.8zM1936.8 1330.2L1943.9 1318.8L1929.7 1318.8zM1944.4 1332.7L1951.5 1321.3L1937.3 1321.3zM1952.1 1337.3L1959.2 1325.9L1945 1325.9zM1959.8 1337.3L1966.9 1325.9L1952.7 1325.9zM1967.5 1341.6L1974.6 1330.2L1960.4 1330.2zM1975.2 1340.5L1982.3 1329.1L1968.1 1329.1zM1982.8 1330.2L1989.9 1318.8L1975.7 1318.8zM1990.5 1338L1997.6 1326.6L1983.4 1326.6zM1998.2 1346.9L2005.3 1335.5L1991.1 1335.5zM2005.9 1344.1L2013 1332.7L1998.8 1332.7zM2013.6 1357.3L2020.7 1345.9L2006.5 1345.9zM2021.2 1354.8L2028.3 1343.4L2014.1 1343.4zM2028.9 1345.2L2036 1333.8L2021.8 1333.8zM2036.6 1351.2L2043.7 1339.8L2029.5 1339.8zM2044.3 1402.6L2051.4 1391.2L2037.2 1391.2zM2052 1360.9L2059.1 1349.5L2044.9 1349.5zM2059.6 1359.8L2066.7 1348.4L2052.5 1348.4zM2067.3 1363.4L2074.4 1352L2060.2 1352zM2075 1359.8L2082.1 1348.4L2067.9 1348.4zM2082.7 1358L2089.8 1346.6L2075.6 1346.6zM2090.4 1359.1L2097.5 1347.7L2083.3 1347.7zM2098 1361.6L2105.1 1350.2L2090.9 1350.2zM2105.7 1367.6L2112.8 1356.2L2098.6 1356.2zM2113.4 1376.6L2120.5 1365.2L2106.3 1365.2zM2121.1 1368.7L2128.2 1357.3L2114 1357.3zM2128.8 1369.4L2135.9 1358L2121.7 1358zM2136.4 1380.1L2143.5 1368.7L2129.3 1368.7zM2144.1 1372.3L2151.2 1360.9L2137 1360.9zM2151.8 1380.1L2158.9 1368.7L2144.7 1368.7zM2159.5 1379.1L2166.6 1367.7L2152.4 1367.7zM2167.2 1376.6L2174.3 1365.2L2160.1 1365.2zM2174.8 1375.5L2181.9 1364.1L2167.7 1364.1zM2182.5 1375.5L2189.6 1364.1L2175.4 1364.1zM2190.2 1429.4L2197.3 1418L2183.1 1418zM2197.9 1404.8L2205 1393.4L2190.8 1393.4zM2205.6 1388.7L2212.7 1377.3L2198.5 1377.3zM2213.2 1393.7L2220.3 1382.3L2206.1 1382.3zM2220.9 1399.4L2228 1388L2213.8 1388zM2228.6 1401.6L2235.7 1390.2L2221.5 1390.2zM2236.3 1399.4L2243.4 1388L2229.2 1388zM2244 1396.6L2251.1 1385.2L2236.9 1385.2zM2251.6 1401.6L2258.7 1390.2L2244.5 1390.2zM2259.3 1399.4L2266.4 1388L2252.2 1388zM2267 1447.6L2274.1 1436.2L2259.9 1436.2z"/>
</g>
<g fill="#ff00ff" stroke="none">
<path fill="none" stroke="#ff00ff" stroke-width="3" d="M434.4 1464.4L436.2 1459.5M439.6 1442.9L446.4 1323.3M447.3 1306.1L454.1 1174.8M455 1157.6L461.7 1037.7M462.9 1020.5L469.1 949.5M471.4 932.5L476 907.6M488.1 890L490 884.8M495.4 868.4L498.1 859.9M502.1 860.1L506.7 885.3M509.4 885.3L514.8 844.1M541.6 817.1L544.1 808.8M548 792.1L553 761.3M579 768.7L583.5 793.2M646.9 859.2L653.9 1040.9M654.5 1040.9L661.5 864.2M933.1 916.6L936 906.4M939.6 906.6L944.8 940.6M948.1 940.8L951.7 926.1M1064.6 883.4L1065.6 881M1071.9 865L1073.6 860.5M1086.1 860.8L1090.1 878.6M1093.5 878.6L1098.1 853.7M1209.7 852L1212.3 843.5M1302.7 916.7L1303.6 918.8M1355.6 1000.5L1358.2 1008.8M1364.4 1024.8L1364.8 1025.6M1377.3 1041.9L1382.6 1079.5M1387 1080L1388.2 1077.1M1463.3 1139.7L1465.6 1146.6M1486.8 1171.7L1488.2 1175.3M1624.7 1279.3L1626.8 1285.5M1668.9 1305.1L1674.7 1357.6M1677.2 1357.7L1681.8 1332.1M1748 1329.8L1749.2 1332.8M1961.4 1399.9L1965.9 1424.1M1969.6 1424.2L1973 1410.5M2107 1430L2112.1 1462.6M2115.4 1462.7L2119.1 1447"/>
<path d="M347 1463.9L354.5 1471.4L347 1478.9L339.5 1471.4zM354.7 1465.4L362.2 1472.9L354.7 1480.4L347.2 1472.9zM362.4 1467.1L369.9 1474.6L362.4 1482.1L354.9 1474.6zM370 1467.1L377.5 1474.6L370 1482.1L362.5 1474.6zM377.7 1467.1L385.2 1474.6L377.7 1482.1L370.2 1474.6zM385.4 1467.1L392.9 1474.6L385.4 1482.1L377.9 1474.6zM393.1 1465.4L400.6 1472.9L393.1 1480.4L385.6 1472.9zM400.8 1465.4L408.3 1472.9L400.8 1480.4L393.3 1472.9zM408.4 1463.9L415.9 1471.4L408.4 1478.9L400.9 1471.4zM416.1 1465.4L423.6 1472.9L416.1 1480.4L408.6 1472.9zM423.8 1465.4L431.3 1472.9L423.8 1480.4L416.3 1472.9zM431.5 1465L439 1472.5L431.5 1480L424 1472.5zM439.2 1443.9L446.7 1451.4L439.2 1458.9L431.7 1451.4zM446.8 1307.2L454.3 1314.7L446.8 1322.2L439.3 1314.7zM454.5 1158.7L462 1166.2L454.5 1173.7L447 1166.2zM462.2 1021.6L469.7 1029.1L462.2 1036.6L454.7 1029.1zM469.9 933.4L477.4 940.9L469.9 948.4L462.4 940.9zM477.6 891.7L485.1 899.2L477.6 906.7L470.1 899.2zM485.2 890.6L492.7 898.1L485.2 905.6L477.7 898.1zM492.9 869.2L500.4 876.7L492.9 884.2L485.4 876.7zM500.6 844.2L508.1 851.7L500.6 859.2L493.1 851.7zM508.3 886.3L515.8 893.8L508.3 901.3L500.8 893.8zM516 828.1L523.5 835.6L516 843.1L508.5 835.6zM523.6 822.8L531.1 830.3L523.6 837.8L516.1 830.3zM531.3 822.4L538.8 829.9L531.3 837.4L523.8 829.9zM539 817.8L546.5 825.3L539 832.8L531.5 825.3zM546.7 793.1L554.2 800.6L546.7 808.1L539.2 800.6zM554.4 745.3L561.9 752.8L554.4 760.3L546.9 752.8zM562 732.1L569.5 739.6L562 747.1L554.5 739.6zM569.7 744.2L577.2 751.7L569.7 759.2L562.2 751.7zM577.4 752.8L584.9 760.3L577.4 767.8L569.9 760.3zM585.1 794.2L592.6 801.7L585.1 809.2L577.6 801.7zM592.8 801.3L600.3 808.8L592.8 816.3L585.3 808.8zM600.4 803.1L607.9 810.6L600.4 818.1L592.9 810.6zM608.1 817.8L615.6 825.3L608.1 832.8L600.6 825.3zM615.8 817.8L623.3 825.3L615.8 832.8L608.3 825.3zM623.5 819.5L631 827L623.5 834.5L616 827zM631.2 835.3L638.7 842.8L631.2 850.3L623.7 842.8zM638.8 843.1L646.3 850.6L638.8 858.1L631.3 850.6zM646.5 843.1L654 850.6L646.5 858.1L639 850.6zM654.2 1042L661.7 1049.5L654.2 1057L646.7 1049.5zM661.9 848.1L669.4 855.6L661.9 863.1L654.4 855.6zM669.6 849.9L677.1 857.4L669.6 864.9L662.1 857.4zM677.2 848.1L684.7 855.6L677.2 863.1L669.7 855.6zM684.9 857.7L692.4 865.2L684.9 872.7L677.4 865.2zM692.6 871.7L700.1 879.2L692.6 886.7L685.1 879.2zM700.3 863.1L707.8 870.6L700.3 878.1L692.8 870.6zM708 867.4L715.5 874.9L708 882.4L700.5 874.9zM715.6 881.3L723.1 888.8L715.6 896.3L708.1 888.8zM723.3 877.7L730.8 885.2L723.3 892.7L715.8 885.2zM731 867.4L738.5 874.9L731 882.4L723.5 874.9zM738.7 858.8L746.2 866.3L738.7 873.8L731.2 866.3zM746.4 867.4L753.9 874.9L746.4 882.4L738.9 874.9zM754 876.3L761.5 883.8L754 891.3L746.5 883.8zM761.7 889.2L769.2 896.7L761.7 904.2L754.2 896.7zM769.4 886.3L776.9 893.8L769.4 901.3L761.9 893.8zM777.1 879.5L784.6 887L777.1 894.5L769.6 887zM784.8 881.3L792.3 888.8L784.8 896.3L777.3 888.8zM792.4 893.4L799.9 900.9L792.4 908.4L784.9 900.9zM800.1 887.4L807.6 894.9L800.1 902.4L792.6 894.9zM807.8 895.9L815.3 903.4L807.8 910.9L800.3 903.4zM815.5 910.2L823 917.7L815.5 925.2L808 917.7zM823.2 907L830.7 914.5L823.2 922L815.7 914.5zM830.8 912L838.3 919.5L830.8 927L823.3 919.5zM838.5 908.4L846 915.9L838.5 923.4L831 915.9zM846.2 901.3L853.7 908.8L846.2 916.3L838.7 908.8zM853.9 904.9L861.4 912.4L853.9 919.9L846.4 912.4zM861.6 904.9L869.1 912.4L861.6 919.9L854.1 912.4zM869.2 908.4L876.7 915.9L869.2 923.4L861.7 915.9zM876.9 913.8L884.4 921.3L876.9 928.8L869.4 921.3zM884.6 918.1L892.1 925.6L884.6 933.1L877.1 925.6zM892.3 915.6L899.8 923.1L892.3 930.6L884.8 923.1zM900 925.9L907.5 933.4L900 940.9L892.5 933.4zM907.6 931.3L915.1 938.8L907.6 946.3L900.1 938.8zM915.3 927.7L922.8 935.2L915.3 942.7L907.8 935.2zM923 925.9L930.5 933.4L923 940.9L915.5 933.4zM930.7 917.4L938.2 924.9L930.7 932.4L923.2 924.9zM938.4 890.6L945.9 898.1L938.4 905.6L930.9 898.1zM946 941.6L953.5 949.1L946 956.6L938.5 949.1zM953.7 910.2L961.2 917.7L953.7 925.2L946.2 917.7zM961.4 905.2L968.9 912.7L961.4 920.2L953.9 912.7zM969.1 907L976.6 914.5L969.1 922L961.6 914.5zM976.8 919.1L984.3 926.6L976.8 934.1L969.3 926.6zM984.4 922.4L991.9 929.9L984.4 937.4L976.9 929.9zM992.1 912L999.6 919.5L992.1 927L984.6 919.5zM999.8 901.3L1007.3 908.8L999.8 916.3L992.3 908.8zM1007.5 895.2L1015 902.7L1007.5 910.2L1000 902.7zM1015.2 903.1L1022.7 910.6L1015.2 918.1L1007.7 910.6zM1022.8 897.7L1030.3 905.2L1022.8 912.7L1015.3 905.2zM1030.5 886.3L1038 893.8L1030.5 901.3L1023 893.8zM1038.2 891.7L1045.7 899.2L1038.2 906.7L1030.7 899.2zM1045.9 886.3L1053.4 893.8L1045.9 901.3L1038.4 893.8zM1053.6 881.3L1061.1 888.8L1053.6 896.3L1046.1 888.8zM1061.2 883.8L1068.7 891.3L1061.2 898.8L1053.7 891.3zM1068.9 865.6L1076.4 873.1L1068.9 880.6L1061.4 873.1zM1076.6 844.9L1084.1 852.4L1076.6 859.9L1069.1 852.4zM1084.3 844.9L1091.8 852.4L1084.3 859.9L1076.8 852.4zM1092 879.5L1099.5 887L1092 894.5L1084.5 887zM1099.6 837.8L1107.1 845.3L1099.6 852.8L1092.1 845.3zM1107.3 832.8L1114.8 840.3L1107.3 847.8L1099.8 840.3zM1115 840.6L1122.5 848.1L1115 855.6L1107.5 848.1zM1122.7 844.9L1130.2 852.4L1122.7 859.9L1115.2 852.4zM1130.4 844.9L1137.9 852.4L1130.4 859.9L1122.9 852.4zM1138 852.7L1145.5 860.2L1138 867.7L1130.5 860.2zM1145.7 854.2L1153.2 861.7L1145.7 869.2L1138.2 861.7zM1153.4 858.8L1160.9 866.3L1153.4 873.8L1145.9 866.3zM1161.1 857.7L1168.6 865.2L1161.1 872.7L1153.6 865.2zM1168.8 857L1176.3 864.5L1168.8 872L1161.3 864.5zM1176.4 847.4L1183.9 854.9L1176.4 862.4L1168.9 854.9zM1184.1 843.1L1191.6 850.6L1184.1 858.1L1176.6 850.6zM1191.8 840.6L1199.3 848.1L1191.8 855.6L1184.3 848.1zM1199.5 854.2L1207 861.7L1199.5 869.2L1192 861.7zM1207.2 852.7L1214.7 860.2L1207.2 867.7L1199.7 860.2zM1214.8 827.8L1222.3 835.3L1214.8 842.8L1207.3 835.3zM1222.5 835.3L1230 842.8L1222.5 850.3L1215 842.8zM1230.2 845.6L1237.7 853.1L1230.2 860.6L1222.7 853.1zM1237.9 852.7L1245.4 860.2L1237.9 867.7L1230.4 860.2zM1245.6 863.1L1253.1 870.6L1245.6 878.1L1238.1 870.6zM1253.2 872.4L1260.7 879.9L1253.2 887.4L1245.7 879.9zM1260.9 862L1268.4 869.5L1260.9 877L1253.4 869.5zM1268.6 874.2L1276.1 881.7L1268.6 889.2L1261.1 881.7zM1276.3 886.3L1283.8 893.8L1276.3 901.3L1268.8 893.8zM1284 891.7L1291.5 899.2L1284 906.7L1276.5 899.2zM1291.6 895.2L1299.1 902.7L1291.6 910.2L1284.1 902.7zM1299.3 901.3L1306.8 908.8L1299.3 916.3L1291.8 908.8zM1307 919.1L1314.5 926.6L1307 934.1L1299.5 926.6zM1314.7 934.5L1322.2 942L1314.7 949.5L1307.2 942zM1322.4 945.2L1329.9 952.7L1322.4 960.2L1314.9 952.7zM1330 955.6L1337.5 963.1L1330 970.6L1322.5 963.1zM1337.7 963.4L1345.2 970.9L1337.7 978.4L1330.2 970.9zM1345.4 975.6L1352.9 983.1L1345.4 990.6L1337.9 983.1zM1353.1 984.8L1360.6 992.3L1353.1 999.8L1345.6 992.3zM1360.8 1009.5L1368.3 1017L1360.8 1024.5L1353.3 1017zM1368.4 1025.9L1375.9 1033.4L1368.4 1040.9L1360.9 1033.4zM1376.1 1025.9L1383.6 1033.4L1376.1 1040.9L1368.6 1033.4zM1383.8 1080.5L1391.3 1088L1383.8 1095.5L1376.3 1088zM1391.5 1061.6L1399 1069.1L1391.5 1076.6L1384 1069.1zM1399.2 1066.6L1406.7 1074.1L1399.2 1081.6L1391.7 1074.1zM1406.8 1065.9L1414.3 1073.4L1406.8 1080.9L1399.3 1073.4zM1414.5 1076.9L1422 1084.4L1414.5 1091.9L1407 1084.4zM1422.2 1090.9L1429.7 1098.4L1422.2 1105.9L1414.7 1098.4zM1429.9 1098L1437.4 1105.5L1429.9 1113L1422.4 1105.5zM1437.6 1107.3L1445.1 1114.8L1437.6 1122.3L1430.1 1114.8zM1445.2 1110.9L1452.7 1118.4L1445.2 1125.9L1437.7 1118.4zM1452.9 1111.9L1460.4 1119.4L1452.9 1126.9L1445.4 1119.4zM1460.6 1124.1L1468.1 1131.6L1460.6 1139.1L1453.1 1131.6zM1468.3 1147.3L1475.8 1154.8L1468.3 1162.3L1460.8 1154.8zM1476 1151.6L1483.5 1159.1L1476 1166.6L1468.5 1159.1zM1483.6 1156.2L1491.1 1163.7L1483.6 1171.2L1476.1 1163.7zM1491.3 1175.8L1498.8 1183.3L1491.3 1190.8L1483.8 1183.3zM1499 1183.7L1506.5 1191.2L1499 1198.7L1491.5 1191.2zM1506.7 1194L1514.2 1201.5L1506.7 1209L1499.2 1201.5zM1514.4 1203.3L1521.9 1210.8L1514.4 1218.3L1506.9 1210.8zM1522 1213L1529.5 1220.5L1522 1228L1514.5 1220.5zM1529.7 1209.4L1537.2 1216.9L1529.7 1224.4L1522.2 1216.9zM1537.4 1218.3L1544.9 1225.8L1537.4 1233.3L1529.9 1225.8zM1545.1 1230.5L1552.6 1238L1545.1 1245.5L1537.6 1238zM1552.8 1233L1560.3 1240.5L1552.8 1248L1545.3 1240.5zM1560.4 1238.3L1567.9 1245.8L1560.4 1253.3L1552.9 1245.8zM1568.1 1254L1575.6 1261.5L1568.1 1269L1560.6 1261.5zM1575.8 1256.5L1583.3 1264L1575.8 1271.5L1568.3 1264zM1583.5 1248.7L1591 1256.2L1583.5 1263.7L1576 1256.2zM1591.2 1255.8L1598.7 1263.3L1591.2 1270.8L1583.7 1263.3zM1598.8 1263.7L1606.3 1271.2L1598.8 1278.7L1591.3 1271.2zM1606.5 1266.2L1614 1273.7L1606.5 1281.2L1599 1273.7zM1614.2 1267.9L1621.7 1275.4L1614.2 1282.9L1606.7 1275.4zM1621.9 1263.7L1629.4 1271.2L1621.9 1278.7L1614.4 1271.2zM1629.6 1286.1L1637.1 1293.6L1629.6 1301.1L1622.1 1293.6zM1637.2 1285.4L1644.7 1292.9L1637.2 1300.4L1629.7 1292.9zM1644.9 1280.1L1652.4 1287.6L1644.9 1295.1L1637.4 1287.6zM1652.6 1284.4L1660.1 1291.9L1652.6 1299.4L1645.1 1291.9zM1660.3 1289.7L1667.8 1297.2L1660.3 1304.7L1652.8 1297.2zM1668 1289L1675.5 1296.5L1668 1304L1660.5 1296.5zM1675.6 1358.6L1683.1 1366.1L1675.6 1373.6L1668.1 1366.1zM1683.3 1316.1L1690.8 1323.6L1683.3 1331.1L1675.8 1323.6zM1691 1300.4L1698.5 1307.9L1691 1315.4L1683.5 1307.9zM1698.7 1295.1L1706.2 1302.6L1698.7 1310.1L1691.2 1302.6zM1706.4 1307.2L1713.9 1314.7L1706.4 1322.2L1698.9 1314.7zM1714 1314.3L1721.5 1321.8L1714 1329.3L1706.5 1321.8zM1721.7 1320.4L1729.2 1327.9L1721.7 1335.4L1714.2 1327.9zM1729.4 1322.2L1736.9 1329.7L1729.4 1337.2L1721.9 1329.7zM1737.1 1322.9L1744.6 1330.4L1737.1 1337.9L1729.6 1330.4zM1744.8 1314.3L1752.3 1321.8L1744.8 1329.3L1737.3 1321.8zM1752.4 1333.3L1759.9 1340.8L1752.4 1348.3L1744.9 1340.8zM1760.1 1340.4L1767.6 1347.9L1760.1 1355.4L1752.6 1347.9zM1767.8 1336.8L1775.3 1344.3L1767.8 1351.8L1760.3 1344.3zM1775.5 1349L1783 1356.5L1775.5 1364L1768 1356.5zM1783.2 1348.3L1790.7 1355.8L1783.2 1363.3L1775.7 1355.8zM1790.8 1349L1798.3 1356.5L1790.8 1364L1783.3 1356.5zM1798.5 1348.3L1806 1355.8L1798.5 1363.3L1791 1355.8zM1806.2 1349L1813.7 1356.5L1806.2 1364L1798.7 1356.5zM1813.9 1349L1821.4 1356.5L1813.9 1364L1806.4 1356.5zM1821.6 1349L1829.1 1356.5L1821.6 1364L1814.1 1356.5zM1829.2 1351.8L1836.7 1359.3L1829.2 1366.8L1821.7 1359.3zM1836.9 1359.7L1844.4 1367.2L1836.9 1374.7L1829.4 1367.2zM1844.6 1354.3L1852.1 1361.8L1844.6 1369.3L1837.1 1361.8zM1852.3 1348.3L1859.8 1355.8L1852.3 1363.3L1844.8 1355.8zM1860 1357.9L1867.5 1365.4L1860 1372.9L1852.5 1365.4zM1867.6 1366.5L1875.1 1374L1867.6 1381.5L1860.1 1374zM1875.3 1355.4L1882.8 1362.9L1875.3 1370.4L1867.8 1362.9zM1883 1364L1890.5 1371.5L1883 1379L1875.5 1371.5zM1890.7 1369.3L1898.2 1376.8L1890.7 1384.3L1883.2 1376.8zM1898.4 1371.8L1905.9 1379.3L1898.4 1386.8L1890.9 1379.3zM1906 1365.8L1913.5 1373.3L1906 1380.8L1898.5 1373.3zM1913.7 1370L1921.2 1377.5L1913.7 1385L1906.2 1377.5zM1921.4 1372.9L1928.9 1380.4L1921.4 1387.9L1913.9 1380.4zM1929.1 1372.9L1936.6 1380.4L1929.1 1387.9L1921.6 1380.4zM1936.8 1379.7L1944.3 1387.2L1936.8 1394.7L1929.3 1387.2zM1944.4 1382.2L1951.9 1389.7L1944.4 1397.2L1936.9 1389.7zM1952.1 1372.9L1959.6 1380.4L1952.1 1387.9L1944.6 1380.4zM1959.8 1384L1967.3 1391.5L1959.8 1399L1952.3 1391.5zM1967.5 1425L1975 1432.5L1967.5 1440L1960 1432.5zM1975.2 1394.7L1982.7 1402.2L1975.2 1409.7L1967.7 1402.2zM1982.8 1379.7L1990.3 1387.2L1982.8 1394.7L1975.3 1387.2zM1990.5 1385.7L1998 1393.2L1990.5 1400.7L1983 1393.2zM1998.2 1388.6L2005.7 1396.1L1998.2 1403.6L1990.7 1396.1zM2005.9 1379L2013.4 1386.5L2005.9 1394L1998.4 1386.5zM2013.6 1385.7L2021.1 1393.2L2013.6 1400.7L2006.1 1393.2zM2021.2 1391.8L2028.7 1399.3L2021.2 1406.8L2013.7 1399.3zM2028.9 1389.3L2036.4 1396.8L2028.9 1404.3L2021.4 1396.8zM2036.6 1401.5L2044.1 1409L2036.6 1416.5L2029.1 1409zM2044.3 1404.3L2051.8 1411.8L2044.3 1419.3L2036.8 1411.8zM2052 1399L2059.5 1406.5L2052 1414L2044.5 1406.5zM2059.6 1403.2L2067.1 1410.7L2059.6 1418.2L2052.1 1410.7zM2067.3 1410.4L2074.8 1417.9L2067.3 1425.4L2059.8 1417.9zM2075 1406.8L2082.5 1414.3L2075 1421.8L2067.5 1414.3zM2082.7 1410.4L2090.2 1417.9L2082.7 1425.4L2075.2 1417.9zM2090.4 1417.2L2097.9 1424.7L2090.4 1432.2L2082.9 1424.7zM2098 1402.5L2105.5 1410L2098 1417.5L2090.5 1410zM2105.7 1414L2113.2 1421.5L2105.7 1429L2098.2 1421.5zM2113.4 1463.6L2120.9 1471.1L2113.4 1478.6L2105.9 1471.1zM2121.1 1431.1L2128.6 1438.6L2121.1 1446.1L2113.6 1438.6zM2128.8 1417.2L2136.3 1424.7L2128.8 1432.2L2121.3 1424.7zM2136.4 1423.2L2143.9 1430.7L2136.4 1438.2L2128.9 1430.7zM2144.1 1422.5L2151.6 1430L2144.1 1437.5L2136.6 1430zM2151.8 1412.2L2159.3 1419.7L2151.8 1427.2L2144.3 1419.7zM2159.5 1420.7L2167 1428.2L2159.5 1435.7L2152 1428.2zM2167.2 1427.9L2174.7 1435.4L2167.2 1442.9L2159.7 1435.4zM2174.8 1432.9L2182.3 1440.4L2174.8 1447.9L2167.3 1440.4zM2182.5 1434.7L2190 1442.2L2182.5 1449.7L2175 1442.2zM2190.2 1422.5L2197.7 1430L2190.2 1437.5L2182.7 1430zM2197.9 1427.9L2205.4 1435.4L2197.9 1442.9L2190.4 1435.4zM2205.6 1438.2L2213.1 1445.7L2205.6 1453.2L2198.1 1445.7zM2213.2 1438.9L2220.7 1446.4L2213.2 1453.9L2205.7 1446.4zM2220.9 1442.5L2228.4 1450L2220.9 1457.5L2213.4 1450zM2228.6 1442.5L2236.1 1450L2228.6 1457.5L2221.1 1450zM2236.3 1440.7L2243.8 1448.2L2236.3 1455.7L2228.8 1448.2zM2244 1444.3L2251.5 1451.8L2244 1459.3L2236.5 1451.8zM2251.6 1442.5L2259.1 1450L2251.6 1457.5L2244.1 1450zM2259.3 1442.5L2266.8 1450L2259.3 1457.5L2251.8 1450zM2267 1440L2274.5 1447.5L2267 1455L2259.5 1447.5z"/>
</g>
<g fill="#808000" stroke="none">
<path fill="none" stroke="#808000" stroke-width="3" d="M432.1 1457.7L438.5 1375.9M439.6 1359.9L446.4 1245.2M447.3 1229.3L454.1 1112.4M455.1 1096.5L461.6 1013.5M463.4 997.6L468.7 962.1M472.3 946.5L475.1 937.8M479.6 922.5L483.2 909.4M488.8 908.8L489.4 910.2M509.9 934.1L514.3 955.2M517.8 970.8L521.8 987.4M533.3 977.8L537 963.3M564 933.2L567.7 918.7M572.3 903.4L574.9 895.7M580.3 880.6L582.2 875.9M588.3 861.1L589.5 858.3M595.4 843.4L597.8 836.7M648.6 886.2L652.2 900M655.2 899.8L660.8 856.8M664.7 841.4L666.7 836.3M671.9 821.2L674.9 811.5M678.8 796L683.4 772.4M687.9 757.2L689.6 753.1M719.2 758.9L719.7 759.9M749.9 762.1L750.5 763.5M778.8 812.4L783 830.7M794.2 853L798.3 870.7M801.6 870.6L806.3 845.3M817.6 858.3L821.1 871.4M834.4 897.8L835 899.1M849.7 922.4L850.4 923.7M871.7 955.7L874.4 964M880.4 964.4L881.1 963.1M1033.9 950.5L1034.8 948.5M1064.3 913.9L1065.9 910.1M1072 910.1L1073.5 913.9M1079 928.9L1081.9 937.9M1085.8 953.4L1090.5 978.4M1093.9 978.5L1097.7 963.7M1102.2 948.4L1104.7 941M1140.9 956.6L1142.9 961.7M1194.8 1000.8L1196.5 1004.9M1231.6 1037L1236.5 1063.7M1239.7 1063.8L1243.8 1046.2M1333.3 1037.1L1334.5 1040M1339.5 1055.1L1343.6 1073.4M1377.7 1100.1L1382.2 1122.7M1385.9 1122.8L1389.4 1109.7M1394.9 1094.7L1395.8 1092.8M1478.9 1082.4L1480.7 1078M1494.3 1091.9L1496 1096.3M1523.7 1109.8L1528.1 1130.5M1531.5 1130.5L1535.6 1112.2M1609.9 1143.8L1610.8 1145.7M1668.4 1182L1675.2 1308.5M1676.3 1308.5L1682.7 1224.9M1685.4 1209.2L1688.9 1196.4M1725.4 1212.6L1725.8 1213.3M1748.4 1230.1L1748.8 1230.8M1763.8 1245.8L1764.2 1246.5M1837.3 1304.5L1844.3 1470.9M1852.6 1470.9L1859.6 1312.3M1976.1 1356.6L1981.9 1403.9M1984.5 1404L1988.9 1382.9M2001.5 1371.3L2002.6 1369.1M2160.6 1411.9L2166.1 1451.7M2169.2 1451.9L2172.8 1437.8"/>
<path d="M339.1 1476.4L351.2 1469.4L351.2 1483.4zM346.8 1476.4L358.9 1469.4L358.9 1483.4zM354.5 1476.4L366.6 1469.4L366.6 1483.4zM362.1 1476.4L374.2 1469.4L374.2 1483.4zM369.8 1476.4L381.9 1469.4L381.9 1483.4zM377.5 1476.4L389.6 1469.4L389.6 1483.4zM385.2 1476.4L397.3 1469.4L397.3 1483.4zM392.9 1471.4L405 1464.4L405 1478.4zM400.5 1474.6L412.6 1467.6L412.6 1481.6zM408.2 1474.6L420.3 1467.6L420.3 1481.6zM415.9 1470.4L428 1463.4L428 1477.4zM423.6 1465.7L435.7 1458.7L435.7 1472.7zM431.3 1367.9L443.4 1360.9L443.4 1374.9zM438.9 1237.2L451 1230.2L451 1244.2zM446.6 1104.4L458.7 1097.4L458.7 1111.4zM454.3 1005.5L466.4 998.5L466.4 1012.5zM462 954.1L474.1 947.1L474.1 961.1zM469.7 930.2L481.8 923.2L481.8 937.2zM477.3 901.7L489.4 894.7L489.4 908.7zM485 917.4L497.1 910.4L497.1 924.4zM492.7 926.3L504.8 919.3L504.8 933.3zM500.4 926.3L512.5 919.3L512.5 933.3zM508.1 963.1L520.2 956.1L520.2 970.1zM515.7 995.2L527.8 988.2L527.8 1002.2zM523.4 985.6L535.5 978.6L535.5 992.6zM531.1 955.6L543.2 948.6L543.2 962.6zM538.8 941.6L550.9 934.6L550.9 948.6zM546.5 936.6L558.6 929.6L558.6 943.6zM554.1 940.9L566.2 933.9L566.2 947.9zM561.8 910.9L573.9 903.9L573.9 917.9zM569.5 888.1L581.6 881.1L581.6 895.1zM577.2 868.5L589.3 861.5L589.3 875.5zM584.9 851L597 844L597 858zM592.5 829.2L604.6 822.2L604.6 836.2zM600.2 842.8L612.3 835.8L612.3 849.8zM607.9 854.2L620 847.2L620 861.2zM615.6 864.5L627.7 857.5L627.7 871.5zM623.3 879.2L635.4 872.2L635.4 886.2zM630.9 881.7L643 874.7L643 888.7zM638.6 878.5L650.7 871.5L650.7 885.5zM646.3 907.7L658.4 900.7L658.4 914.7zM654 848.8L666.1 841.8L666.1 855.8zM661.7 828.8L673.8 821.8L673.8 835.8zM669.3 803.8L681.4 796.8L681.4 810.8zM677 764.6L689.1 757.6L689.1 771.6zM684.7 745.7L696.8 738.7L696.8 752.7zM692.4 732.4L704.5 725.4L704.5 739.4zM700.1 741L712.2 734L712.2 748zM707.7 751.7L719.8 744.7L719.8 758.7zM715.4 767.1L727.5 760.1L727.5 774.1zM723.1 769.9L735.2 762.9L735.2 776.9zM730.8 765.3L742.9 758.3L742.9 772.3zM738.5 754.9L750.6 747.9L750.6 761.9zM746.1 770.6L758.2 763.6L758.2 777.6zM753.8 776.7L765.9 769.7L765.9 783.7zM761.5 790.6L773.6 783.6L773.6 797.6zM769.2 804.6L781.3 797.6L781.3 811.6zM776.9 838.5L789 831.5L789 845.5zM784.5 845.3L796.6 838.3L796.6 852.3zM792.2 878.5L804.3 871.5L804.3 885.5zM799.9 837.4L812 830.4L812 844.4zM807.6 850.6L819.7 843.6L819.7 857.6zM815.3 879.2L827.4 872.2L827.4 886.2zM822.9 890.6L835 883.6L835 897.6zM830.6 906.3L842.7 899.3L842.7 913.3zM838.3 915.2L850.4 908.2L850.4 922.2zM846 930.9L858.1 923.9L858.1 937.9zM853.7 935.2L865.8 928.2L865.8 942.2zM861.3 948.1L873.4 941.1L873.4 955.1zM869 971.6L881.1 964.6L881.1 978.6zM876.7 955.9L888.8 948.9L888.8 962.9zM884.4 969.8L896.5 962.8L896.5 976.8zM892.1 971.6L904.2 964.6L904.2 978.6zM899.7 969.1L911.8 962.1L911.8 976.1zM907.4 963.1L919.5 956.1L919.5 970.1zM915.1 970.9L927.2 963.9L927.2 977.9zM922.8 974.1L934.9 967.1L934.9 981.1zM930.5 961.3L942.6 954.3L942.6 968.3zM938.1 948.1L950.2 941.1L950.2 955.1zM945.8 940.6L957.9 933.6L957.9 947.6zM953.5 943.8L965.6 936.8L965.6 950.8zM961.2 950.9L973.3 943.9L973.3 957.9zM968.9 961.3L981 954.3L981 968.3zM976.5 949.1L988.6 942.1L988.6 956.1zM984.2 957.7L996.3 950.7L996.3 964.7zM991.9 955.2L1004 948.2L1004 962.2zM999.6 951.6L1011.7 944.6L1011.7 958.6zM1007.3 953.4L1019.4 946.4L1019.4 960.4zM1014.9 953.4L1027 946.4L1027 960.4zM1022.6 957.7L1034.7 950.7L1034.7 964.7zM1030.3 941.3L1042.4 934.3L1042.4 948.3zM1038 934.5L1050.1 927.5L1050.1 941.5zM1045.7 928.4L1057.8 921.4L1057.8 935.4zM1053.3 921.3L1065.4 914.3L1065.4 928.3zM1061 902.7L1073.1 895.7L1073.1 909.7zM1068.7 921.3L1080.8 914.3L1080.8 928.3zM1076.4 945.6L1088.5 938.6L1088.5 952.6zM1084.1 986.3L1096.2 979.3L1096.2 993.3zM1091.7 955.9L1103.8 948.9L1103.8 962.9zM1099.4 933.4L1111.5 926.4L1111.5 940.4zM1107.1 932.4L1119.2 925.4L1119.2 939.4zM1114.8 942L1126.9 935L1126.9 949zM1122.5 944.5L1134.6 937.5L1134.6 951.5zM1130.1 949.1L1142.2 942.1L1142.2 956.1zM1137.8 969.1L1149.9 962.1L1149.9 976.1zM1145.5 969.1L1157.6 962.1L1157.6 976.1zM1153.2 957.7L1165.3 950.7L1165.3 964.7zM1160.9 963.1L1173 956.1L1173 970.1zM1168.5 975.2L1180.6 968.2L1180.6 982.2zM1176.2 983.8L1188.3 976.8L1188.3 990.8zM1183.9 993.4L1196 986.4L1196 1000.4zM1191.6 1012.3L1203.7 1005.3L1203.7 1019.3zM1199.3 1017L1211.4 1010L1211.4 1024zM1206.9 1022L1219 1015L1219 1029zM1214.6 1029.8L1226.7 1022.8L1226.7 1036.8zM1222.3 1029.1L1234.4 1022.1L1234.4 1036.1zM1230 1071.6L1242.1 1064.6L1242.1 1078.6zM1237.7 1038.4L1249.8 1031.4L1249.8 1045.4zM1245.3 1028L1257.4 1021L1257.4 1035zM1253 1042L1265.1 1035L1265.1 1049zM1260.7 1046.2L1272.8 1039.2L1272.8 1053.2zM1268.4 1043L1280.5 1036L1280.5 1050zM1276.1 1030.9L1288.2 1023.9L1288.2 1037.9zM1283.7 1025.5L1295.8 1018.5L1295.8 1032.5zM1291.4 1022L1303.5 1015L1303.5 1029zM1299.1 1020.2L1311.2 1013.2L1311.2 1027.2zM1306.8 1023.8L1318.9 1016.8L1318.9 1030.8zM1314.5 1029.1L1326.6 1022.1L1326.6 1036.1zM1322.1 1029.8L1334.2 1022.8L1334.2 1036.8zM1329.8 1047.3L1341.9 1040.3L1341.9 1054.3zM1337.5 1081.2L1349.6 1074.2L1349.6 1088.2zM1345.2 1095.9L1357.3 1088.9L1357.3 1102.9zM1352.9 1106.2L1365 1099.2L1365 1113.2zM1360.5 1094.1L1372.6 1087.1L1372.6 1101.1zM1368.2 1092.3L1380.3 1085.3L1380.3 1099.3zM1375.9 1130.5L1388 1123.5L1388 1137.5zM1383.6 1101.9L1395.7 1094.9L1395.7 1108.9zM1391.3 1085.5L1403.4 1078.5L1403.4 1092.5zM1398.9 1084.4L1411 1077.4L1411 1091.4zM1406.6 1080.2L1418.7 1073.2L1418.7 1087.2zM1414.3 1090.5L1426.4 1083.5L1426.4 1097.5zM1422 1084.4L1434.1 1077.4L1434.1 1091.4zM1429.7 1088.7L1441.8 1081.7L1441.8 1095.7zM1437.3 1097.7L1449.4 1090.7L1449.4 1104.7zM1445 1093.4L1457.1 1086.4L1457.1 1100.4zM1452.7 1091.6L1464.8 1084.6L1464.8 1098.6zM1460.4 1096.6L1472.5 1089.6L1472.5 1103.6zM1468.1 1089.8L1480.2 1082.8L1480.2 1096.8zM1475.7 1070.5L1487.8 1063.5L1487.8 1077.5zM1483.4 1084.4L1495.5 1077.4L1495.5 1091.4zM1491.1 1103.7L1503.2 1096.7L1503.2 1110.7zM1498.8 1101.9L1510.9 1094.9L1510.9 1108.9zM1506.5 1093.4L1518.6 1086.4L1518.6 1100.4zM1514.1 1101.9L1526.2 1094.9L1526.2 1108.9zM1521.8 1138.4L1533.9 1131.4L1533.9 1145.4zM1529.5 1104.4L1541.6 1097.4L1541.6 1111.4zM1537.2 1105.5L1549.3 1098.5L1549.3 1112.5zM1544.9 1108L1557 1101L1557 1115zM1552.5 1114.8L1564.6 1107.8L1564.6 1121.8zM1560.2 1113.4L1572.3 1106.4L1572.3 1120.4zM1567.9 1123.7L1580 1116.7L1580 1130.7zM1575.6 1125.5L1587.7 1118.5L1587.7 1132.5zM1583.3 1127.3L1595.4 1120.3L1595.4 1134.3zM1590.9 1136.6L1603 1129.6L1603 1143.6zM1598.6 1136.6L1610.7 1129.6L1610.7 1143.6zM1606.3 1153L1618.4 1146L1618.4 1160zM1614 1139.4L1626.1 1132.4L1626.1 1146.4zM1621.7 1151.6L1633.8 1144.6L1633.8 1158.6zM1629.3 1160.1L1641.4 1153.1L1641.4 1167.1zM1637 1165.5L1649.1 1158.5L1649.1 1172.5zM1644.7 1166.2L1656.8 1159.2L1656.8 1173.2zM1652.4 1164.4L1664.5 1157.4L1664.5 1171.4zM1660.1 1174.1L1672.2 1167.1L1672.2 1181.1zM1667.7 1316.5L1679.8 1309.5L1679.8 1323.5zM1675.4 1216.9L1687.5 1209.9L1687.5 1223.9zM1683.1 1188.7L1695.2 1181.7L1695.2 1195.7zM1690.8 1199.4L1702.9 1192.4L1702.9 1206.4zM1698.5 1207.3L1710.6 1200.3L1710.6 1214.3zM1706.1 1206.5L1718.2 1199.5L1718.2 1213.5zM1713.8 1205.5L1725.9 1198.5L1725.9 1212.5zM1721.5 1220.5L1733.6 1213.5L1733.6 1227.5zM1729.2 1223L1741.3 1216L1741.3 1230zM1736.9 1223L1749 1216L1749 1230zM1744.5 1238L1756.6 1231L1756.6 1245zM1752.2 1238.7L1764.3 1231.7L1764.3 1245.7zM1759.9 1253.7L1772 1246.7L1772 1260.7zM1767.6 1252.6L1779.7 1245.6L1779.7 1259.6zM1775.3 1260.4L1787.4 1253.4L1787.4 1267.4zM1782.9 1268.3L1795 1261.3L1795 1275.3zM1790.6 1274.7L1802.7 1267.7L1802.7 1281.7zM1798.3 1273.7L1810.4 1266.7L1810.4 1280.7zM1806 1276.2L1818.1 1269.2L1818.1 1283.2zM1813.7 1289.4L1825.8 1282.4L1825.8 1296.4zM1821.3 1294.7L1833.4 1287.7L1833.4 1301.7zM1829 1296.5L1841.1 1289.5L1841.1 1303.5zM1836.7 1478.9L1848.8 1471.9L1848.8 1485.9zM1844.4 1478.9L1856.5 1471.9L1856.5 1485.9zM1852.1 1304.4L1864.2 1297.4L1864.2 1311.4zM1859.7 1306.1L1871.8 1299.1L1871.8 1313.1zM1867.4 1306.1L1879.5 1299.1L1879.5 1313.1zM1875.1 1312.9L1887.2 1305.9L1887.2 1319.9zM1882.8 1316.5L1894.9 1309.5L1894.9 1323.5zM1890.5 1315.8L1902.6 1308.8L1902.6 1322.8zM1898.1 1328.6L1910.2 1321.6L1910.2 1335.6zM1905.8 1332.9L1917.9 1325.9L1917.9 1339.9zM1913.5 1323.6L1925.6 1316.6L1925.6 1330.6zM1921.2 1329.7L1933.3 1322.7L1933.3 1336.7zM1928.9 1336.5L1941 1329.5L1941 1343.5zM1936.5 1340.1L1948.6 1333.1L1948.6 1347.1zM1944.2 1343.6L1956.3 1336.6L1956.3 1350.6zM1951.9 1354L1964 1347L1964 1361zM1959.6 1350.4L1971.7 1343.4L1971.7 1357.4zM1967.3 1348.6L1979.4 1341.6L1979.4 1355.6zM1974.9 1411.8L1987 1404.8L1987 1418.8zM1982.6 1375L1994.7 1368L1994.7 1382zM1990.3 1378.6L2002.4 1371.6L2002.4 1385.6zM1998 1361.8L2010.1 1354.8L2010.1 1368.8zM2005.7 1360L2017.8 1353L2017.8 1367zM2013.3 1364.7L2025.4 1357.7L2025.4 1371.7zM2021 1360L2033.1 1353L2033.1 1367zM2028.7 1367.9L2040.8 1360.9L2040.8 1374.9zM2036.4 1370.8L2048.5 1363.8L2048.5 1377.8zM2044.1 1357.5L2056.2 1350.5L2056.2 1364.5zM2051.7 1365.4L2063.8 1358.4L2063.8 1372.4zM2059.4 1379.3L2071.5 1372.3L2071.5 1386.3zM2067.1 1387.2L2079.2 1380.2L2079.2 1394.2zM2074.8 1380.4L2086.9 1373.4L2086.9 1387.4zM2082.5 1389.7L2094.6 1382.7L2094.6 1396.7zM2090.1 1385.4L2102.2 1378.4L2102.2 1392.4zM2097.8 1378.6L2109.9 1371.6L2109.9 1385.6zM2105.5 1385.4L2117.6 1378.4L2117.6 1392.4zM2113.2 1389.7L2125.3 1382.7L2125.3 1396.7zM2120.9 1385.4L2133 1378.4L2133 1392.4zM2128.5 1394.3L2140.6 1387.3L2140.6 1401.3zM2136.2 1396.8L2148.3 1389.8L2148.3 1403.8zM2143.9 1398.6L2156 1391.6L2156 1405.6zM2151.6 1404L2163.7 1397L2163.7 1411zM2159.3 1459.7L2171.4 1452.7L2171.4 1466.7zM2166.9 1430L2179 1423L2179 1437zM2174.6 1424L2186.7 1417L2186.7 1431zM2182.3 1415L2194.4 1408L2194.4 1422zM2190 1418.6L2202.1 1411.6L2202.1 1425.6zM2197.7 1427.5L2209.8 1420.5L2209.8 1434.5zM2205.3 1420.4L2217.4 1413.4L2217.4 1427.4zM2213 1426.5L2225.1 1419.5L2225.1 1433.5zM2220.7 1430.7L2232.8 1423.7L2232.8 1437.7zM2228.4 1430.7L2240.5 1423.7L2240.5 1437.7zM2236.1 1434.3L2248.2 1427.3L2248.2 1441.3zM2243.7 1435.4L2255.8 1428.4L2255.8 1442.4zM2251.4 1430.7L2263.5 1423.7L2263.5 1437.7zM2259.1 1433.6L2271.2 1426.6L2271.2 1440.6z"/>
</g>
<g fill="#000080" stroke="none">
<path fill="none" stroke="#000080" stroke-width="3" d="M432.5 1454.2L438.1 1413M439.5 1397L446.5 1242.4M447.1 1226.4L454.2 1027.5M454.9 1011.5L461.8 881.8M463.4 865.9L468.7 829.3M472.4 828.9L475 836.9M479.7 836.8L483.1 824.4M495 811.6L498.5 824M502.3 839.5L506.6 860.3M518.5 869.8L521.1 861.8M542.3 844.7L543.4 847.2M556.8 850.5L559.6 841.8M565.3 826.9L566.4 824.4M571.2 809.2L575.9 784.6M578.6 768.8L583.9 734.6M586.8 718.9L591 700.3M616.5 674L622.7 739.8M624.8 739.9L629.8 711.1M641.6 707.1L643.7 712.8M649.3 727.8L651.4 733.5M665.5 745.6L666 744.6M679.7 739.4L682.5 748.4M686.9 763.8L690.6 778.6M694.2 794.2L698.7 815.6M740.4 820.9L744.6 840.3M749.5 855.5L750.9 858.9M762.3 876.1L768.8 967.9M770.3 968L776.2 913.2M856.2 939L859.2 929M925.5 938.5L928.2 946.5M1018.8 953.4L1019.2 952.7M1054.7 962.1L1060.1 1001.9M1062.4 1001.9L1067.7 966.7M1110 958.7L1112.3 952M1156.6 935L1157.9 931.9M1346.4 976L1352 1018.7M1355.8 1019.1L1358 1013.1M1379.3 997.2L1380.6 1000M1400.7 1031.6L1405.3 1055.2M1456.4 1103.1L1457.1 1104.4M1479.3 1129.2L1480.3 1131.1M1492.4 1143.8L1497.9 1184M1501 1184.2L1504.7 1169.7M1525.1 1172.9L1526.6 1176.3M1548.7 1196.9L1549.1 1197.6M1701.3 1340.5L1703.7 1347.5M1747.2 1386.2L1750 1395.3M1822.7 1424L1828.1 1459.6M1830.7 1459.6L1835.4 1434.3"/>
<path d="M355.1 1470.4L343.1 1463.4L343.1 1477.4zM362.8 1470.4L350.8 1463.4L350.8 1477.4zM370.5 1477.1L358.5 1470.1L358.5 1484.1zM378.1 1478.2L366.1 1471.2L366.1 1485.2zM385.8 1478.2L373.8 1471.2L373.8 1485.2zM393.5 1478.2L381.5 1471.2L381.5 1485.2zM401.2 1478.2L389.2 1471.2L389.2 1485.2zM408.9 1478.2L396.9 1471.2L396.9 1485.2zM416.5 1477.1L404.5 1470.1L404.5 1484.1zM424.2 1469.3L412.2 1462.3L412.2 1476.3zM431.9 1465.7L419.9 1458.7L419.9 1472.7zM439.6 1462.2L427.6 1455.2L427.6 1469.2zM447.3 1405L435.3 1398L435.3 1412zM454.9 1234.4L442.9 1227.4L442.9 1241.4zM462.6 1019.5L450.6 1012.5L450.6 1026.5zM470.3 873.8L458.3 866.8L458.3 880.8zM478 821.3L466 814.3L466 828.3zM485.7 844.5L473.7 837.5L473.7 851.5zM493.3 816.7L481.3 809.7L481.3 823.7zM501 803.8L489 796.8L489 810.8zM508.7 831.7L496.7 824.7L496.7 838.7zM516.4 868.1L504.4 861.1L504.4 875.1zM524.1 877.4L512.1 870.4L512.1 884.4zM531.7 854.2L519.7 847.2L519.7 861.2zM539.4 842.8L527.4 835.8L527.4 849.8zM547.1 837.4L535.1 830.4L535.1 844.4zM554.8 854.5L542.8 847.5L542.8 861.5zM562.5 858.1L550.5 851.1L550.5 865.1zM570.1 834.2L558.1 827.2L558.1 841.2zM577.8 817.1L565.8 810.1L565.8 824.1zM585.5 776.7L573.5 769.7L573.5 783.7zM593.2 726.7L581.2 719.7L581.2 733.7zM600.9 692.5L588.9 685.5L588.9 699.5zM608.5 679.6L596.5 672.6L596.5 686.6zM616.2 666L604.2 659L604.2 673zM623.9 666L611.9 659L611.9 673zM631.6 747.8L619.6 740.8L619.6 754.8zM639.3 703.2L627.3 696.2L627.3 710.2zM646.9 699.6L634.9 692.6L634.9 706.6zM654.6 720.3L642.6 713.3L642.6 727.3zM662.3 741L650.3 734L650.3 748zM670 752.8L658 745.8L658 759.8zM677.7 737.4L665.7 730.4L665.7 744.4zM685.3 731.7L673.3 724.7L673.3 738.7zM693 756L681 749L681 763zM700.7 786.3L688.7 779.3L688.7 793.3zM708.4 823.5L696.4 816.5L696.4 830.5zM716.1 836.7L704.1 829.7L704.1 843.7zM723.7 831.3L711.7 824.3L711.7 838.3zM731.4 832.4L719.4 825.4L719.4 839.4zM739.1 826.3L727.1 819.3L727.1 833.3zM746.8 813.1L734.8 806.1L734.8 820.1zM754.5 848.1L742.5 841.1L742.5 855.1zM762.1 866.3L750.1 859.3L750.1 873.3zM769.8 868.1L757.8 861.1L757.8 875.1zM777.5 975.9L765.5 968.9L765.5 982.9zM785.2 905.2L773.2 898.2L773.2 912.2zM792.9 915.9L780.9 908.9L780.9 922.9zM800.5 923.1L788.5 916.1L788.5 930.1zM808.2 929.9L796.2 922.9L796.2 936.9zM815.9 935.2L803.9 928.2L803.9 942.2zM823.6 928.4L811.6 921.4L811.6 935.4zM831.3 933.4L819.3 926.4L819.3 940.4zM838.9 940.6L826.9 933.6L826.9 947.6zM846.6 935.9L834.6 928.9L834.6 942.9zM854.3 945.6L842.3 938.6L842.3 952.6zM862 946.6L850 939.6L850 953.6zM869.7 921.3L857.7 914.3L857.7 928.3zM877.3 922L865.3 915L865.3 929zM885 933.4L873 926.4L873 940.4zM892.7 942L880.7 935L880.7 949zM900.4 940.6L888.4 933.6L888.4 947.6zM908.1 946.6L896.1 939.6L896.1 953.6zM915.7 934.5L903.7 927.5L903.7 941.5zM923.4 925.6L911.4 918.6L911.4 932.6zM931.1 930.9L919.1 923.9L919.1 937.9zM938.8 954.1L926.8 947.1L926.8 961.1zM946.5 967.3L934.5 960.3L934.5 974.3zM954.1 964.8L942.1 957.8L942.1 971.8zM961.8 955.9L949.8 948.9L949.8 962.9zM969.5 952.7L957.5 945.7L957.5 959.7zM977.2 954.1L965.2 947.1L965.2 961.1zM984.9 955.9L972.9 948.9L972.9 962.9zM992.5 961.3L980.5 954.3L980.5 968.3zM1000.2 964.8L988.2 957.8L988.2 971.8zM1007.9 963.1L995.9 956.1L995.9 970.1zM1015.6 968.1L1003.6 961.1L1003.6 975.1zM1023.3 960.6L1011.3 953.6L1011.3 967.6zM1030.9 945.6L1018.9 938.6L1018.9 952.6zM1038.6 950.9L1026.6 943.9L1026.6 957.9zM1046.3 954.1L1034.3 947.1L1034.3 961.1zM1054 952.7L1042 945.7L1042 959.7zM1061.7 954.1L1049.7 947.1L1049.7 961.1zM1069.3 1009.8L1057.3 1002.8L1057.3 1016.8zM1077 958.8L1065 951.8L1065 965.8zM1084.7 953.4L1072.7 946.4L1072.7 960.4zM1092.4 949.9L1080.4 942.9L1080.4 956.9zM1100.1 946.6L1088.1 939.6L1088.1 953.6zM1107.7 960.6L1095.7 953.6L1095.7 967.6zM1115.4 966.3L1103.4 959.3L1103.4 973.3zM1123.1 944.5L1111.1 937.5L1111.1 951.5zM1130.8 944.5L1118.8 937.5L1118.8 951.5zM1138.5 950.9L1126.5 943.9L1126.5 957.9zM1146.1 938.1L1134.1 931.1L1134.1 945.1zM1153.8 942.4L1141.8 935.4L1141.8 949.4zM1161.5 942.4L1149.5 935.4L1149.5 949.4zM1169.2 924.5L1157.2 917.5L1157.2 931.5zM1176.9 918.8L1164.9 911.8L1164.9 925.8zM1184.5 920.2L1172.5 913.2L1172.5 927.2zM1192.2 920.6L1180.2 913.6L1180.2 927.6zM1199.9 914.5L1187.9 907.5L1187.9 921.5zM1207.6 908.8L1195.6 901.8L1195.6 915.8zM1215.3 905.2L1203.3 898.2L1203.3 912.2zM1222.9 899.5L1210.9 892.5L1210.9 906.5zM1230.6 911.3L1218.6 904.3L1218.6 918.3zM1238.3 915.9L1226.3 908.9L1226.3 922.9zM1246 910.2L1234 903.2L1234 917.2zM1253.7 912.4L1241.7 905.4L1241.7 919.4zM1261.3 910.2L1249.3 903.2L1249.3 917.2zM1269 901.3L1257 894.3L1257 908.3zM1276.7 908.8L1264.7 901.8L1264.7 915.8zM1284.4 917.4L1272.4 910.4L1272.4 924.4zM1292.1 924.5L1280.1 917.5L1280.1 931.5zM1299.7 915.9L1287.7 908.9L1287.7 922.9zM1307.4 922L1295.4 915L1295.4 929zM1315.1 928.1L1303.1 921.1L1303.1 935.1zM1322.8 930.2L1310.8 923.2L1310.8 937.2zM1330.5 943.8L1318.5 936.8L1318.5 950.8zM1338.1 955.2L1326.1 948.2L1326.1 962.2zM1345.8 962.4L1333.8 955.4L1333.8 969.4zM1353.5 968.1L1341.5 961.1L1341.5 975.1zM1361.2 1026.6L1349.2 1019.6L1349.2 1033.6zM1368.9 1005.5L1356.9 998.5L1356.9 1012.5zM1376.5 990.9L1364.5 983.9L1364.5 997.9zM1384.2 989.8L1372.2 982.8L1372.2 996.8zM1391.9 1007.3L1379.9 1000.3L1379.9 1014.3zM1399.6 1015.9L1387.6 1008.9L1387.6 1022.9zM1407.3 1023.8L1395.3 1016.8L1395.3 1030.8zM1414.9 1063L1402.9 1056L1402.9 1070zM1422.6 1057.7L1410.6 1050.7L1410.6 1064.7zM1430.3 1054.1L1418.3 1047.1L1418.3 1061.1zM1438 1068L1426 1061L1426 1075zM1445.7 1075.9L1433.7 1068.9L1433.7 1082.9zM1453.3 1083.7L1441.3 1076.7L1441.3 1090.7zM1461 1095.9L1449 1088.9L1449 1102.9zM1468.7 1111.6L1456.7 1104.6L1456.7 1118.6zM1476.4 1112.3L1464.4 1105.3L1464.4 1119.3zM1484.1 1121.9L1472.1 1114.9L1472.1 1128.9zM1491.7 1138.4L1479.7 1131.4L1479.7 1145.4zM1499.4 1135.9L1487.4 1128.9L1487.4 1142.9zM1507.1 1191.9L1495.1 1184.9L1495.1 1198.9zM1514.8 1161.9L1502.8 1154.9L1502.8 1168.9zM1522.5 1155.8L1510.5 1148.8L1510.5 1162.8zM1530.1 1165.5L1518.1 1158.5L1518.1 1172.5zM1537.8 1183.7L1525.8 1176.7L1525.8 1190.7zM1545.5 1194.4L1533.5 1187.4L1533.5 1201.4zM1553.2 1189.8L1541.2 1182.8L1541.2 1196.8zM1560.9 1204.8L1548.9 1197.8L1548.9 1211.8zM1568.5 1218.7L1556.5 1211.7L1556.5 1225.7zM1576.2 1225.8L1564.2 1218.8L1564.2 1232.8zM1583.9 1238L1571.9 1231L1571.9 1245zM1591.6 1243L1579.6 1236L1579.6 1250zM1599.3 1253.7L1587.3 1246.7L1587.3 1260.7zM1606.9 1260.4L1594.9 1253.4L1594.9 1267.4zM1614.6 1269.4L1602.6 1262.4L1602.6 1276.4zM1622.3 1274.7L1610.3 1267.7L1610.3 1281.7zM1630 1273.7L1618 1266.7L1618 1280.7zM1637.7 1283.3L1625.7 1276.3L1625.7 1290.3zM1645.3 1294.7L1633.3 1287.7L1633.3 1301.7zM1653 1290.4L1641 1283.4L1641 1297.4zM1660.7 1300.8L1648.7 1293.8L1648.7 1307.8zM1668.4 1312.2L1656.4 1305.2L1656.4 1319.2zM1676.1 1326.1L1664.1 1319.1L1664.1 1333.1zM1683.7 1320.1L1671.7 1313.1L1671.7 1327.1zM1691.4 1332.2L1679.4 1325.2L1679.4 1339.2zM1699.1 1339.3L1687.1 1332.3L1687.1 1346.3zM1706.8 1332.9L1694.8 1325.9L1694.8 1339.9zM1714.5 1355L1702.5 1348L1702.5 1362zM1722.1 1359.3L1710.1 1352.3L1710.1 1366.3zM1729.8 1354L1717.8 1347L1717.8 1361zM1737.5 1365.4L1725.5 1358.4L1725.5 1372.4zM1745.2 1370.8L1733.2 1363.8L1733.2 1377.8zM1752.9 1378.6L1740.9 1371.6L1740.9 1385.6zM1760.5 1402.9L1748.5 1395.9L1748.5 1409.9zM1768.2 1396.8L1756.2 1389.8L1756.2 1403.8zM1775.9 1396.8L1763.9 1389.8L1763.9 1403.8zM1783.6 1402.2L1771.6 1395.2L1771.6 1409.2zM1791.3 1407.2L1779.3 1400.2L1779.3 1414.2zM1798.9 1404.7L1786.9 1397.7L1786.9 1411.7zM1806.6 1412.5L1794.6 1405.5L1794.6 1419.5zM1814.3 1416.8L1802.3 1409.8L1802.3 1423.8zM1822 1406.5L1810 1399.5L1810 1413.5zM1829.7 1416.1L1817.7 1409.1L1817.7 1423.1zM1837.3 1467.5L1825.3 1460.5L1825.3 1474.5zM1845 1426.5L1833 1419.5L1833 1433.5zM1852.7 1420.4L1840.7 1413.4L1840.7 1427.4zM1860.4 1422.2L1848.4 1415.2L1848.4 1429.2zM1868.1 1415L1856.1 1408L1856.1 1422zM1875.7 1422.9L1863.7 1415.9L1863.7 1429.9zM1883.4 1424.7L1871.4 1417.7L1871.4 1431.7zM1891.1 1421.5L1879.1 1414.5L1879.1 1428.5zM1898.8 1430.7L1886.8 1423.7L1886.8 1437.7zM1906.5 1433.6L1894.5 1426.6L1894.5 1440.6zM1914.1 1427.5L1902.1 1420.5L1902.1 1434.5zM1921.8 1436.1L1909.8 1429.1L1909.8 1443.1zM1929.5 1438.6L1917.5 1431.6L1917.5 1445.6zM1937.2 1430L1925.2 1423L1925.2 1437zM1944.9 1439.7L1932.9 1432.7L1932.9 1446.7zM1952.5 1447.5L1940.5 1440.5L1940.5 1454.5zM1960.2 1439.7L1948.2 1432.7L1948.2 1446.7zM1967.9 1450L1955.9 1443L1955.9 1457zM1975.6 1455.4L1963.6 1448.4L1963.6 1462.4zM1983.3 1442.2L1971.3 1435.2L1971.3 1449.2zM1990.9 1437.2L1978.9 1430.2L1978.9 1444.2zM1998.6 1450L1986.6 1443L1986.6 1457zM2006.3 1455.4L1994.3 1448.4L1994.3 1462.4zM2014 1449.3L2002 1442.3L2002 1456.3zM2021.7 1456.1L2009.7 1449.1L2009.7 1463.1zM2029.3 1459.7L2017.3 1452.7L2017.3 1466.7zM2037 1460.7L2025 1453.7L2025 1467.7z"/>
</g>
<g fill="#800000" stroke="none">
<path fill="none" stroke="#800000" stroke-width="3" d="M411.9 1454.8L412.6 1453.4M448 1444.1L453.3 1409.5M454.9 1394L461.9 1230M462.5 1214.5L469.5 1049.8M470.3 1034.2L477.1 908.7M478.2 893.2L484.6 820.9M486.5 805.4L491.7 772.3M495.9 757.4L497.6 753.2M503.1 753.4L505.8 761.5M509.3 761.1L514.9 720.5M518.9 705.6L520.7 701.5M548.7 671.8L552.4 685.6M556.1 700.8L560.3 718.8M565.1 733.5L566.6 737.1M572.6 751.5L574.5 756.3M588.4 755L589.4 753M594.7 738.5L598.5 724.3M602.2 709.1L606.4 690.8M609.4 675.5L614.6 643M616.6 627.6L622.6 572M624.6 556.6L630.1 516.7M632.3 501.2L637.7 464.9M640.3 449.5L645 425.2M649.5 410.3L651.3 405.9M655.4 390.9L660.7 355.3M662.4 355.4L669 451.2M670 466.8L676.8 591.1M677.9 606.7L684.3 685.4M686.7 700.8L690.9 719.1M694.6 734.3L698.3 748.8M702.6 763.8L705.6 773.5M711.3 788.1L712.3 790.4M788 784.9L789.2 787.8M795.2 802.2L797.4 808.3M834.5 827.2L834.9 828M880.2 829.1L881.3 831.4M918.3 836.2L920.1 831.8M994.8 862.2L997.2 855.5M1048.7 832.5L1050.8 838M1093.8 850.3L1097.8 867.3M1109.6 863.9L1112.7 853.4M1116.7 838.3L1121 818.2M1124.9 803.1L1128.2 791.7M1131.7 776.5L1136.7 747.3M1139.7 732L1144.1 711.9M1147.8 696.7L1151.3 684.6M1156.1 669.8L1158.4 663.4M1163.9 663.3L1166 668.8M1171.9 683.2L1173.3 686.4M1201.8 724.9L1204.9 735M1210.6 749.4L1211.4 751.1M1217.9 765.3L1219.5 769.2M1225.9 783.4L1226.8 785.4M1247.3 811.8L1251.5 830.9M1255 846.1L1259.2 864.8M1262.8 880L1266.7 895.5M1270 910.8L1274.9 938.3M1277.7 953.6L1282.6 980.7M1285.5 996L1290.1 1017.9M1293.1 1033.2L1297.9 1058.2M1301.5 1073.4L1304.8 1085.2M1309.1 1100.2L1312.6 1113M1317.9 1127.6L1319.1 1130.2M1324.5 1144.8L1327.9 1156.9M1332.1 1171.9L1335.6 1184.7M1349 1204.6L1349.5 1205.7M1377.2 1244.6L1382.7 1283.4M1385.2 1283.5L1390 1257.8M1510.1 1358.5L1510.9 1360.2M1548.1 1391.9L1549.7 1395.7M1786 1468L1788 1472.8"/>
<path d="M347 1470.5L352.7 1473.8L352.7 1480.4L347 1483.7L341.3 1480.4L341.3 1473.8zM354.7 1469.1L360.4 1472.4L360.4 1479L354.7 1482.3L349 1479L349 1472.4zM362.4 1468L368.1 1471.3L368.1 1477.9L362.4 1481.2L356.6 1477.9L356.6 1471.3zM370 1464.8L375.8 1468.1L375.8 1474.7L370 1478L364.3 1474.7L364.3 1468.1zM377.7 1465.9L383.4 1469.2L383.4 1475.8L377.7 1479.1L372 1475.8L372 1469.2zM385.4 1464.8L391.1 1468.1L391.1 1474.7L385.4 1478L379.7 1474.7L379.7 1468.1zM393.1 1461.6L398.8 1464.9L398.8 1471.5L393.1 1474.8L387.4 1471.5L387.4 1464.9zM400.8 1453.1L406.5 1456.4L406.5 1463L400.8 1466.3L395 1463L395 1456.4zM408.4 1455.2L414.2 1458.5L414.2 1465.1L408.4 1468.4L402.7 1465.1L402.7 1458.5zM416.1 1439.8L421.8 1443.1L421.8 1449.7L416.1 1453L410.4 1449.7L410.4 1443.1zM423.8 1449.8L429.5 1453.1L429.5 1459.7L423.8 1463L418.1 1459.7L418.1 1453.1zM431.5 1445.2L437.2 1448.5L437.2 1455.1L431.5 1458.4L425.8 1455.1L425.8 1448.5zM439.2 1437.7L444.9 1441L444.9 1447.6L439.2 1450.9L433.4 1447.6L433.4 1441zM446.8 1445.2L452.6 1448.5L452.6 1455.1L446.8 1458.4L441.1 1455.1L441.1 1448.5zM454.5 1395.2L460.2 1398.5L460.2 1405.1L454.5 1408.4L448.8 1405.1L448.8 1398.5zM462.2 1215.6L467.9 1218.9L467.9 1225.5L462.2 1228.8L456.5 1225.5L456.5 1218.9zM469.9 1035.4L475.6 1038.7L475.6 1045.3L469.9 1048.6L464.2 1045.3L464.2 1038.7zM477.6 894.3L483.3 897.6L483.3 904.2L477.6 907.5L471.8 904.2L471.8 897.6zM485.2 806.5L491 809.8L491 816.4L485.2 819.7L479.5 816.4L479.5 809.8zM492.9 758L498.6 761.3L498.6 767.9L492.9 771.2L487.2 767.9L487.2 761.3zM500.6 739.4L506.3 742.7L506.3 749.3L500.6 752.6L494.9 749.3L494.9 742.7zM508.3 762.3L514 765.6L514 772.2L508.3 775.5L502.6 772.2L502.6 765.6zM516 706.2L521.7 709.5L521.7 716.1L516 719.4L510.2 716.1L510.2 709.5zM523.6 687.6L529.4 690.9L529.4 697.5L523.6 700.8L517.9 697.5L517.9 690.9zM531.3 676.9L537 680.2L537 686.8L531.3 690.1L525.6 686.8L525.6 680.2zM539 666.9L544.7 670.2L544.7 676.8L539 680.1L533.3 676.8L533.3 670.2zM546.7 657.7L552.4 661L552.4 667.6L546.7 670.9L541 667.6L541 661zM554.4 686.6L560.1 689.9L560.1 696.5L554.4 699.8L548.6 696.5L548.6 689.9zM562 719.8L567.8 723.1L567.8 729.7L562 733L556.3 729.7L556.3 723.1zM569.7 737.6L575.4 740.9L575.4 747.5L569.7 750.8L564 747.5L564 740.9zM577.4 756.9L583.1 760.2L583.1 766.8L577.4 770.1L571.7 766.8L571.7 760.2zM585.1 755.5L590.8 758.8L590.8 765.4L585.1 768.7L579.4 765.4L579.4 758.8zM592.8 739.4L598.5 742.7L598.5 749.3L592.8 752.6L587 749.3L587 742.7zM600.4 710.1L606.2 713.4L606.2 720L600.4 723.3L594.7 720L594.7 713.4zM608.1 676.6L613.8 679.9L613.8 686.5L608.1 689.8L602.4 686.5L602.4 679.9zM615.8 628.7L621.5 632L621.5 638.6L615.8 641.9L610.1 638.6L610.1 632zM623.5 557.7L629.2 561L629.2 567.6L623.5 570.9L617.8 567.6L617.8 561zM631.2 502.4L636.9 505.7L636.9 512.3L631.2 515.6L625.4 512.3L625.4 505.7zM638.8 450.6L644.6 453.9L644.6 460.5L638.8 463.8L633.1 460.5L633.1 453.9zM646.5 411L652.2 414.3L652.2 420.9L646.5 424.2L640.8 420.9L640.8 414.3zM654.2 392L659.9 395.3L659.9 401.9L654.2 405.2L648.5 401.9L648.5 395.3zM661.9 341L667.6 344.3L667.6 350.9L661.9 354.2L656.2 350.9L656.2 344.3zM669.6 452.4L675.3 455.7L675.3 462.3L669.6 465.6L663.8 462.3L663.8 455.7zM677.2 592.3L683 595.6L683 602.2L677.2 605.5L671.5 602.2L671.5 595.6zM684.9 686.6L690.6 689.9L690.6 696.5L684.9 699.8L679.2 696.5L679.2 689.9zM692.6 720.1L698.3 723.4L698.3 730L692.6 733.3L686.9 730L686.9 723.4zM700.3 749.8L706 753.1L706 759.7L700.3 763L694.6 759.7L694.6 753.1zM708 774.4L713.7 777.7L713.7 784.3L708 787.6L702.2 784.3L702.2 777.7zM715.6 790.8L721.4 794.1L721.4 800.7L715.6 804L709.9 800.7L709.9 794.1zM723.3 799.7L729 803L729 809.6L723.3 812.9L717.6 809.6L717.6 803zM731 800.8L736.7 804.1L736.7 810.7L731 814L725.3 810.7L725.3 804.1zM738.7 788.3L744.4 791.6L744.4 798.2L738.7 801.5L733 798.2L733 791.6zM746.4 784L752.1 787.3L752.1 793.9L746.4 797.2L740.6 793.9L740.6 787.3zM754 785.8L759.8 789.1L759.8 795.7L754 799L748.3 795.7L748.3 789.1zM761.7 778L767.4 781.3L767.4 787.9L761.7 791.2L756 787.9L756 781.3zM769.4 770.1L775.1 773.4L775.1 780L769.4 783.3L763.7 780L763.7 773.4zM777.1 760.5L782.8 763.8L782.8 770.4L777.1 773.7L771.4 770.4L771.4 763.8zM784.8 771.2L790.5 774.5L790.5 781.1L784.8 784.4L779 781.1L779 774.5zM792.4 788.3L798.2 791.6L798.2 798.2L792.4 801.5L786.7 798.2L786.7 791.6zM800.1 809L805.8 812.3L805.8 818.9L800.1 822.2L794.4 818.9L794.4 812.3zM807.8 814.4L813.5 817.7L813.5 824.3L807.8 827.6L802.1 824.3L802.1 817.7zM815.5 816.9L821.2 820.2L821.2 826.8L815.5 830.1L809.8 826.8L809.8 820.2zM823.2 816.2L828.9 819.5L828.9 826.1L823.2 829.4L817.4 826.1L817.4 819.5zM830.8 813.7L836.6 817L836.6 823.6L830.8 826.9L825.1 823.6L825.1 817zM838.5 828.3L844.2 831.6L844.2 838.2L838.5 841.5L832.8 838.2L832.8 831.6zM846.2 820.4L851.9 823.7L851.9 830.3L846.2 833.6L840.5 830.3L840.5 823.7zM853.9 810.1L859.6 813.4L859.6 820L853.9 823.3L848.2 820L848.2 813.4zM861.6 815.4L867.3 818.7L867.3 825.3L861.6 828.6L855.8 825.3L855.8 818.7zM869.2 819.7L875 823L875 829.6L869.2 832.9L863.5 829.6L863.5 823zM876.9 815.4L882.6 818.7L882.6 825.3L876.9 828.6L871.2 825.3L871.2 818.7zM884.6 831.9L890.3 835.2L890.3 841.8L884.6 845.1L878.9 841.8L878.9 835.2zM892.3 832.6L898 835.9L898 842.5L892.3 845.8L886.6 842.5L886.6 835.9zM900 833.7L905.7 837L905.7 843.6L900 846.9L894.2 843.6L894.2 837zM907.6 839.7L913.4 843L913.4 849.6L907.6 852.9L901.9 849.6L901.9 843zM915.3 836.9L921 840.2L921 846.8L915.3 850.1L909.6 846.8L909.6 840.2zM923 817.9L928.7 821.2L928.7 827.8L923 831.1L917.3 827.8L917.3 821.2zM930.7 809.4L936.4 812.7L936.4 819.3L930.7 822.6L925 819.3L925 812.7zM938.4 816.2L944.1 819.5L944.1 826.1L938.4 829.4L932.6 826.1L932.6 819.5zM946 825.8L951.8 829.1L951.8 835.7L946 839L940.3 835.7L940.3 829.1zM953.7 830.1L959.4 833.4L959.4 840L953.7 843.3L948 840L948 833.4zM961.4 837.9L967.1 841.2L967.1 847.8L961.4 851.1L955.7 847.8L955.7 841.2zM969.1 837.9L974.8 841.2L974.8 847.8L969.1 851.1L963.4 847.8L963.4 841.2zM976.8 841.5L982.5 844.8L982.5 851.4L976.8 854.7L971 851.4L971 844.8zM984.4 850.1L990.2 853.4L990.2 860L984.4 863.3L978.7 860L978.7 853.4zM992.1 862.9L997.8 866.2L997.8 872.8L992.1 876.1L986.4 872.8L986.4 866.2zM999.8 841.5L1005.5 844.8L1005.5 851.4L999.8 854.7L994.1 851.4L994.1 844.8zM1007.5 845.8L1013.2 849.1L1013.2 855.7L1007.5 859L1001.8 855.7L1001.8 849.1zM1015.2 836.2L1020.9 839.5L1020.9 846.1L1015.2 849.4L1009.4 846.1L1009.4 839.5zM1022.8 828.3L1028.6 831.6L1028.6 838.2L1022.8 841.5L1017.1 838.2L1017.1 831.6zM1030.5 828.3L1036.2 831.6L1036.2 838.2L1030.5 841.5L1024.8 838.2L1024.8 831.6zM1038.2 827.6L1043.9 830.9L1043.9 837.5L1038.2 840.8L1032.5 837.5L1032.5 830.9zM1045.9 818.7L1051.6 822L1051.6 828.6L1045.9 831.9L1040.2 828.6L1040.2 822zM1053.6 838.7L1059.3 842L1059.3 848.6L1053.6 851.9L1047.8 848.6L1047.8 842zM1061.2 840.4L1067 843.7L1067 850.3L1061.2 853.6L1055.5 850.3L1055.5 843.7zM1068.9 830.8L1074.6 834.1L1074.6 840.7L1068.9 844L1063.2 840.7L1063.2 834.1zM1076.6 840.4L1082.3 843.7L1082.3 850.3L1076.6 853.6L1070.9 850.3L1070.9 843.7zM1084.3 831.9L1090 835.2L1090 841.8L1084.3 845.1L1078.6 841.8L1078.6 835.2zM1092 836.2L1097.7 839.5L1097.7 846.1L1092 849.4L1086.2 846.1L1086.2 839.5zM1099.6 868.3L1105.4 871.6L1105.4 878.2L1099.6 881.5L1093.9 878.2L1093.9 871.6zM1107.3 864.7L1113 868L1113 874.6L1107.3 877.9L1101.6 874.6L1101.6 868zM1115 839.4L1120.7 842.7L1120.7 849.3L1115 852.6L1109.3 849.3L1109.3 842.7zM1122.7 804L1128.4 807.3L1128.4 813.9L1122.7 817.2L1117 813.9L1117 807.3zM1130.4 777.6L1136.1 780.9L1136.1 787.5L1130.4 790.8L1124.6 787.5L1124.6 780.9zM1138 733L1143.8 736.3L1143.8 742.9L1138 746.2L1132.3 742.9L1132.3 736.3zM1145.7 697.6L1151.4 700.9L1151.4 707.5L1145.7 710.8L1140 707.5L1140 700.9zM1153.4 670.5L1159.1 673.8L1159.1 680.4L1153.4 683.7L1147.7 680.4L1147.7 673.8zM1161.1 649.4L1166.8 652.7L1166.8 659.3L1161.1 662.6L1155.4 659.3L1155.4 652.7zM1168.8 669.4L1174.5 672.7L1174.5 679.3L1168.8 682.6L1163 679.3L1163 672.7zM1176.4 686.9L1182.2 690.2L1182.2 696.8L1176.4 700.1L1170.7 696.8L1170.7 690.2zM1184.1 695.9L1189.8 699.2L1189.8 705.8L1184.1 709.1L1178.4 705.8L1178.4 699.2zM1191.8 708L1197.5 711.3L1197.5 717.9L1191.8 721.2L1186.1 717.9L1186.1 711.3zM1199.5 710.8L1205.2 714.1L1205.2 720.7L1199.5 724L1193.8 720.7L1193.8 714.1zM1207.2 735.8L1212.9 739.1L1212.9 745.7L1207.2 749L1201.4 745.7L1201.4 739.1zM1214.8 751.5L1220.6 754.8L1220.6 761.4L1214.8 764.7L1209.1 761.4L1209.1 754.8zM1222.5 769.8L1228.2 773.1L1228.2 779.7L1222.5 783L1216.8 779.7L1216.8 773.1zM1230.2 785.8L1235.9 789.1L1235.9 795.7L1230.2 799L1224.5 795.7L1224.5 789.1zM1237.9 784L1243.6 787.3L1243.6 793.9L1237.9 797.2L1232.2 793.9L1232.2 787.3zM1245.6 797.6L1251.3 800.9L1251.3 807.5L1245.6 810.8L1239.8 807.5L1239.8 800.9zM1253.2 831.9L1259 835.2L1259 841.8L1253.2 845.1L1247.5 841.8L1247.5 835.2zM1260.9 865.8L1266.6 869.1L1266.6 875.7L1260.9 879L1255.2 875.7L1255.2 869.1zM1268.6 896.5L1274.3 899.8L1274.3 906.4L1268.6 909.7L1262.9 906.4L1262.9 899.8zM1276.3 939.3L1282 942.6L1282 949.2L1276.3 952.5L1270.6 949.2L1270.6 942.6zM1284 981.8L1289.7 985.1L1289.7 991.7L1284 995L1278.2 991.7L1278.2 985.1zM1291.6 1018.9L1297.4 1022.2L1297.4 1028.8L1291.6 1032.1L1285.9 1028.8L1285.9 1022.2zM1299.3 1059.3L1305 1062.6L1305 1069.2L1299.3 1072.5L1293.6 1069.2L1293.6 1062.6zM1307 1086.1L1312.7 1089.4L1312.7 1096L1307 1099.3L1301.3 1096L1301.3 1089.4zM1314.7 1113.9L1320.4 1117.2L1320.4 1123.8L1314.7 1127.1L1309 1123.8L1309 1117.2zM1322.4 1130.7L1328.1 1134L1328.1 1140.6L1322.4 1143.9L1316.6 1140.6L1316.6 1134zM1330 1157.8L1335.8 1161.1L1335.8 1167.7L1330 1171L1324.3 1167.7L1324.3 1161.1zM1337.7 1185.7L1343.4 1189L1343.4 1195.6L1337.7 1198.9L1332 1195.6L1332 1189zM1345.4 1191L1351.1 1194.3L1351.1 1200.9L1345.4 1204.2L1339.7 1200.9L1339.7 1194.3zM1353.1 1206L1358.8 1209.3L1358.8 1215.9L1353.1 1219.2L1347.4 1215.9L1347.4 1209.3zM1360.8 1215.6L1366.5 1218.9L1366.5 1225.5L1360.8 1228.8L1355 1225.5L1355 1218.9zM1368.4 1222.4L1374.2 1225.7L1374.2 1232.3L1368.4 1235.6L1362.7 1232.3L1362.7 1225.7zM1376.1 1230.3L1381.8 1233.6L1381.8 1240.2L1376.1 1243.5L1370.4 1240.2L1370.4 1233.6zM1383.8 1284.5L1389.5 1287.8L1389.5 1294.4L1383.8 1297.7L1378.1 1294.4L1378.1 1287.8zM1391.5 1243.5L1397.2 1246.8L1397.2 1253.4L1391.5 1256.7L1385.8 1253.4L1385.8 1246.8zM1399.2 1239.9L1404.9 1243.2L1404.9 1249.8L1399.2 1253.1L1393.4 1249.8L1393.4 1243.2zM1406.8 1249.6L1412.6 1252.9L1412.6 1259.5L1406.8 1262.8L1401.1 1259.5L1401.1 1252.9zM1414.5 1257.4L1420.2 1260.7L1420.2 1267.3L1414.5 1270.6L1408.8 1267.3L1408.8 1260.7zM1422.2 1271.3L1427.9 1274.6L1427.9 1281.2L1422.2 1284.5L1416.5 1281.2L1416.5 1274.6zM1429.9 1284.5L1435.6 1287.8L1435.6 1294.4L1429.9 1297.7L1424.2 1294.4L1424.2 1287.8zM1437.6 1287L1443.3 1290.3L1443.3 1296.9L1437.6 1300.2L1431.8 1296.9L1431.8 1290.3zM1445.2 1299.5L1451 1302.8L1451 1309.4L1445.2 1312.7L1439.5 1309.4L1439.5 1302.8zM1452.9 1308.1L1458.6 1311.4L1458.6 1318L1452.9 1321.3L1447.2 1318L1447.2 1311.4zM1460.6 1309.9L1466.3 1313.2L1466.3 1319.8L1460.6 1323.1L1454.9 1319.8L1454.9 1313.2zM1468.3 1322L1474 1325.3L1474 1331.9L1468.3 1335.2L1462.6 1331.9L1462.6 1325.3zM1476 1332.7L1481.7 1336L1481.7 1342.6L1476 1345.9L1470.2 1342.6L1470.2 1336zM1483.6 1329.2L1489.4 1332.5L1489.4 1339.1L1483.6 1342.4L1477.9 1339.1L1477.9 1332.5zM1491.3 1342L1497 1345.3L1497 1351.9L1491.3 1355.2L1485.6 1351.9L1485.6 1345.3zM1499 1344.9L1504.7 1348.2L1504.7 1354.8L1499 1358.1L1493.3 1354.8L1493.3 1348.2zM1506.7 1344.9L1512.4 1348.2L1512.4 1354.8L1506.7 1358.1L1501 1354.8L1501 1348.2zM1514.4 1360.6L1520.1 1363.9L1520.1 1370.5L1514.4 1373.8L1508.6 1370.5L1508.6 1363.9zM1522 1365.9L1527.8 1369.2L1527.8 1375.8L1522 1379.1L1516.3 1375.8L1516.3 1369.2zM1529.7 1358.8L1535.4 1362.1L1535.4 1368.7L1529.7 1372L1524 1368.7L1524 1362.1zM1537.4 1366.7L1543.1 1370L1543.1 1376.6L1537.4 1379.9L1531.7 1376.6L1531.7 1370zM1545.1 1378.1L1550.8 1381.4L1550.8 1388L1545.1 1391.3L1539.4 1388L1539.4 1381.4zM1552.8 1396.3L1558.5 1399.6L1558.5 1406.2L1552.8 1409.5L1547 1406.2L1547 1399.6zM1560.4 1390.2L1566.2 1393.5L1566.2 1400.1L1560.4 1403.4L1554.7 1400.1L1554.7 1393.5zM1568.1 1398.1L1573.8 1401.4L1573.8 1408L1568.1 1411.3L1562.4 1408L1562.4 1401.4zM1575.8 1394.5L1581.5 1397.8L1581.5 1404.4L1575.8 1407.7L1570.1 1404.4L1570.1 1397.8zM1583.5 1405.9L1589.2 1409.2L1589.2 1415.8L1583.5 1419.1L1577.8 1415.8L1577.8 1409.2zM1591.2 1407.7L1596.9 1411L1596.9 1417.6L1591.2 1420.9L1585.4 1417.6L1585.4 1411zM1598.8 1405.9L1604.6 1409.2L1604.6 1415.8L1598.8 1419.1L1593.1 1415.8L1593.1 1409.2zM1606.5 1406.6L1612.2 1409.9L1612.2 1416.5L1606.5 1419.8L1600.8 1416.5L1600.8 1409.9zM1614.2 1410.2L1619.9 1413.5L1619.9 1420.1L1614.2 1423.4L1608.5 1420.1L1608.5 1413.5zM1621.9 1423.4L1627.6 1426.7L1627.6 1433.3L1621.9 1436.6L1616.2 1433.3L1616.2 1426.7zM1629.6 1425.9L1635.3 1429.2L1635.3 1435.8L1629.6 1439.1L1623.8 1435.8L1623.8 1429.2zM1637.2 1427L1643 1430.3L1643 1436.9L1637.2 1440.2L1631.5 1436.9L1631.5 1430.3zM1644.9 1435.6L1650.6 1438.9L1650.6 1445.5L1644.9 1448.8L1639.2 1445.5L1639.2 1438.9zM1652.6 1423.4L1658.3 1426.7L1658.3 1433.3L1652.6 1436.6L1646.9 1433.3L1646.9 1426.7zM1660.3 1431.3L1666 1434.6L1666 1441.2L1660.3 1444.5L1654.6 1441.2L1654.6 1434.6zM1668 1434.8L1673.7 1438.1L1673.7 1444.7L1668 1448L1662.2 1444.7L1662.2 1438.1zM1675.6 1423.4L1681.4 1426.7L1681.4 1433.3L1675.6 1436.6L1669.9 1433.3L1669.9 1426.7zM1683.3 1434.8L1689 1438.1L1689 1444.7L1683.3 1448L1677.6 1444.7L1677.6 1438.1zM1691 1447L1696.7 1450.3L1696.7 1456.9L1691 1460.2L1685.3 1456.9L1685.3 1450.3zM1698.7 1446.3L1704.4 1449.6L1704.4 1456.2L1698.7 1459.5L1693 1456.2L1693 1449.6zM1706.4 1439.1L1712.1 1442.4L1712.1 1449L1706.4 1452.3L1700.6 1449L1700.6 1442.4zM1714 1448.8L1719.8 1452.1L1719.8 1458.7L1714 1462L1708.3 1458.7L1708.3 1452.1zM1721.7 1447.7L1727.4 1451L1727.4 1457.6L1721.7 1460.9L1716 1457.6L1716 1451zM1729.4 1454.1L1735.1 1457.4L1735.1 1464L1729.4 1467.3L1723.7 1464L1723.7 1457.4zM1737.1 1455.6L1742.8 1458.9L1742.8 1465.5L1737.1 1468.8L1731.4 1465.5L1731.4 1458.9zM1744.8 1451.3L1750.5 1454.6L1750.5 1461.2L1744.8 1464.5L1739 1461.2L1739 1454.6zM1752.4 1457.3L1758.2 1460.6L1758.2 1467.2L1752.4 1470.5L1746.7 1467.2L1746.7 1460.6zM1760.1 1454.8L1765.8 1458.1L1765.8 1464.7L1760.1 1468L1754.4 1464.7L1754.4 1458.1zM1767.8 1462L1773.5 1465.3L1773.5 1471.9L1767.8 1475.2L1762.1 1471.9L1762.1 1465.3zM1775.5 1464.5L1781.2 1467.8L1781.2 1474.4L1775.5 1477.7L1769.8 1474.4L1769.8 1467.8zM1783.2 1454.1L1788.9 1457.4L1788.9 1464L1783.2 1467.3L1777.4 1464L1777.4 1457.4zM1790.8 1473.4L1796.6 1476.7L1796.6 1483.3L1790.8 1486.6L1785.1 1483.3L1785.1 1476.7z"/>
</g>
</g>
<g font-size="68.5" style="font-kerning:none">
<text transform="translate(299.8 1501.2) scale(1 1.03)" text-anchor="end">0</text>
<text transform="translate(299.8 1144.2) scale(1 1.03)" text-anchor="end">100</text>
<text transform="translate(299.8 787.2) scale(1 1.03)" text-anchor="end">200</text>
<text transform="translate(299.8 430.2) scale(1 1.03)" text-anchor="end">300</text>
<text transform="translate(299.8 73.2) scale(1 1.03)" text-anchor="end">400</text>
<text transform="translate(346.5 1581.2) scale(1 1.03)" text-anchor="middle">0</text>
<text transform="translate(653.7 1581.2) scale(1 1.03)" text-anchor="middle">200</text>
<text transform="translate(960.9 1581.2) scale(1 1.03)" text-anchor="middle">400</text>
<text transform="translate(1268.1 1581.2) scale(1 1.03)" text-anchor="middle">600</text>
<text transform="translate(1575.3 1581.2) scale(1 1.03)" text-anchor="middle">800</text>
<text transform="translate(1882.5 1581.2) scale(1 1.03)" text-anchor="middle">1000</text>
<text transform="translate(2189.7 1581.2) scale(1 1.03)" text-anchor="middle">1200</text>
<text transform="translate(1307.4 1695.8) scale(1 1.03)" text-anchor="middle">Time(s)</text>
<text transform="translate(80.9 992.4) rotate(-90) scale(1 1.03)" font-size="67.8"><tspan x="0" y="0">HRR(kW/m</tspan><tspan x="342.5" y="-36.9" font-size="42.5">2</tspan><tspan x="365.9" y="0">)</tspan></text>
</g>
<rect x="1758.6" y="107.3" width="424" height="662.5" fill="#fff" stroke="#000" stroke-width="3.2"/>
<g font-size="68.5" style="font-kerning:none">
<path d="M1765 148.4H1917" stroke="#000000" stroke-width="3" fill="none"/>
<path d="M1836 143.4h10v10h-10z" fill="#000000"/>
<text transform="translate(1935.3 170.9) scale(1 1.03)" text-anchor="start">EVA</text>
<path d="M1765 231.8H1917" stroke="#ff0000" stroke-width="3" fill="none"/>
<path d="M1835.5 231.8a5.5 5.5 0 1 0 11 0a5.5 5.5 0 1 0 -11 0z" fill="#ff0000"/>
<text transform="translate(1935.3 254.3) scale(1 1.03)" text-anchor="start">EFMgO</text>
<path d="M1765 315.2H1917" stroke="#0000ff" stroke-width="3" fill="none"/>
<path d="M1841 308.6L1848.1 320L1833.9 320z" fill="#0000ff"/>
<text transform="translate(1935.3 337.7) scale(1 1.03)" text-anchor="start">ELDH-0</text>
<path d="M1765 398.7H1917" stroke="#008080" stroke-width="3" fill="none"/>
<path d="M1841 406.3L1848.1 394.9L1833.9 394.9z" fill="#008080"/>
<text transform="translate(1935.3 421.2) scale(1 1.03)" text-anchor="start">ELDH-1</text>
<path d="M1765 482.1H1917" stroke="#ff00ff" stroke-width="3" fill="none"/>
<path d="M1841 474.6L1848.5 482.1L1841 489.6L1833.5 482.1z" fill="#ff00ff"/>
<text transform="translate(1935.3 504.6) scale(1 1.03)" text-anchor="start">ELDH-2</text>
<path d="M1765 565.5H1917" stroke="#808000" stroke-width="3" fill="none"/>
<path d="M1835.6 565.5L1845.1 558.7L1845.1 572.3z" fill="#808000"/>
<text transform="translate(1935.3 588) scale(1 1.03)" text-anchor="start">ELDH-3</text>
<path d="M1765 648.9H1917" stroke="#000080" stroke-width="3" fill="none"/>
<path d="M1847.3 648.9L1836.9 641.9L1836.9 655.9z" fill="#000080"/>
<text transform="translate(1935.3 671.4) scale(1 1.03)" text-anchor="start">ELDH-4</text>
<path d="M1765 732.3H1917" stroke="#800000" stroke-width="3" fill="none"/>
<path d="M1841 725.7L1846.7 729L1846.7 735.6L1841 738.9L1835.3 735.6L1835.3 729z" fill="#800000"/>
<text transform="translate(1935.3 754.8) scale(1 1.03)" text-anchor="start">ELDH-5</text>
</g>
</svg></body></html>
